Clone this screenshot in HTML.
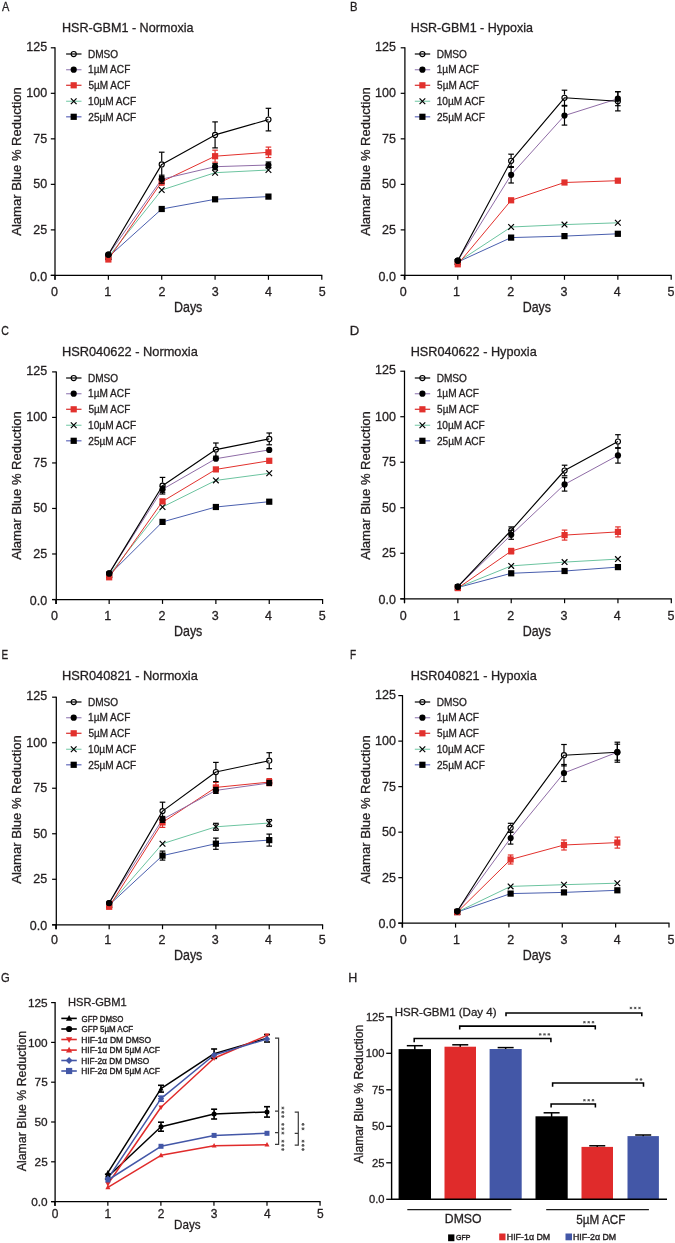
<!DOCTYPE html>
<html><head><meta charset="utf-8"><style>
html,body{margin:0;padding:0;background:#fff;}
svg{display:block;will-change:transform;}
text{font-family:"Liberation Sans", sans-serif;}
</style></head><body>
<svg width="675" height="1243" viewBox="0 0 675 1243">
<rect width="675" height="1243" fill="#fff"/>
<text x="1.88" y="11.00" font-size="13.2" textLength="7.34" lengthAdjust="spacingAndGlyphs" fill="#231f20" stroke="#231f20" stroke-width="0.3">A</text>
<text x="61.97" y="31.70" font-size="12.9" textLength="131.53" lengthAdjust="spacingAndGlyphs" fill="#231f20" stroke="#231f20" stroke-width="0.3">HSR-GBM1 - Normoxia</text>
<line x1="55.00" y1="47.30" x2="55.00" y2="279.80" stroke="#000" stroke-width="1.25" stroke-linecap="butt"/>
<line x1="50.80" y1="275.40" x2="322.30" y2="275.40" stroke="#000" stroke-width="1.25" stroke-linecap="butt"/>
<line x1="50.80" y1="275.40" x2="55.00" y2="275.40" stroke="#000" stroke-width="1.2" stroke-linecap="butt"/>
<text x="29.81" y="280.60" font-size="12.5" textLength="17.38" lengthAdjust="spacingAndGlyphs" fill="#231f20" stroke="#231f20" stroke-width="0.3">0.0</text>
<line x1="50.80" y1="229.88" x2="55.00" y2="229.88" stroke="#000" stroke-width="1.2" stroke-linecap="butt"/>
<text x="33.32" y="233.88" font-size="12.5" textLength="13.90" lengthAdjust="spacingAndGlyphs" fill="#231f20" stroke="#231f20" stroke-width="0.3">25</text>
<line x1="50.80" y1="184.36" x2="55.00" y2="184.36" stroke="#000" stroke-width="1.2" stroke-linecap="butt"/>
<text x="33.28" y="188.36" font-size="12.5" textLength="13.90" lengthAdjust="spacingAndGlyphs" fill="#231f20" stroke="#231f20" stroke-width="0.3">50</text>
<line x1="50.80" y1="138.84" x2="55.00" y2="138.84" stroke="#000" stroke-width="1.2" stroke-linecap="butt"/>
<text x="33.32" y="142.84" font-size="12.5" textLength="13.90" lengthAdjust="spacingAndGlyphs" fill="#231f20" stroke="#231f20" stroke-width="0.3">75</text>
<line x1="50.80" y1="93.32" x2="55.00" y2="93.32" stroke="#000" stroke-width="1.2" stroke-linecap="butt"/>
<text x="26.33" y="97.32" font-size="12.5" textLength="20.86" lengthAdjust="spacingAndGlyphs" fill="#231f20" stroke="#231f20" stroke-width="0.3">100</text>
<line x1="50.80" y1="47.80" x2="55.00" y2="47.80" stroke="#000" stroke-width="1.2" stroke-linecap="butt"/>
<text x="26.37" y="50.80" font-size="12.5" textLength="20.86" lengthAdjust="spacingAndGlyphs" fill="#231f20" stroke="#231f20" stroke-width="0.3">125</text>
<line x1="55.00" y1="275.40" x2="55.00" y2="279.80" stroke="#000" stroke-width="1.2" stroke-linecap="butt"/>
<text x="51.02" y="295.60" font-size="12.5" textLength="6.95" lengthAdjust="spacingAndGlyphs" fill="#231f20" stroke="#231f20" stroke-width="0.3">0</text>
<line x1="108.36" y1="275.40" x2="108.36" y2="279.80" stroke="#000" stroke-width="1.2" stroke-linecap="butt"/>
<text x="104.25" y="295.60" font-size="12.5" textLength="6.95" lengthAdjust="spacingAndGlyphs" fill="#231f20" stroke="#231f20" stroke-width="0.3">1</text>
<line x1="161.72" y1="275.40" x2="161.72" y2="279.80" stroke="#000" stroke-width="1.2" stroke-linecap="butt"/>
<text x="158.52" y="295.60" font-size="12.5" textLength="6.95" lengthAdjust="spacingAndGlyphs" fill="#231f20" stroke="#231f20" stroke-width="0.3">2</text>
<line x1="215.08" y1="275.40" x2="215.08" y2="279.80" stroke="#000" stroke-width="1.2" stroke-linecap="butt"/>
<text x="211.86" y="295.60" font-size="12.5" textLength="6.95" lengthAdjust="spacingAndGlyphs" fill="#231f20" stroke="#231f20" stroke-width="0.3">3</text>
<line x1="268.44" y1="275.40" x2="268.44" y2="279.80" stroke="#000" stroke-width="1.2" stroke-linecap="butt"/>
<text x="265.06" y="295.60" font-size="12.5" textLength="6.95" lengthAdjust="spacingAndGlyphs" fill="#231f20" stroke="#231f20" stroke-width="0.3">4</text>
<line x1="321.80" y1="275.40" x2="321.80" y2="279.80" stroke="#000" stroke-width="1.2" stroke-linecap="butt"/>
<text x="318.74" y="295.60" font-size="12.5" textLength="6.95" lengthAdjust="spacingAndGlyphs" fill="#231f20" stroke="#231f20" stroke-width="0.3">5</text>
<text x="173.98" y="311.90" font-size="14" textLength="28.37" lengthAdjust="spacingAndGlyphs" fill="#231f20" stroke="#231f20" stroke-width="0.3">Days</text>
<text transform="translate(21.40,235.73) rotate(-90)" font-size="13.4" textLength="148.57" lengthAdjust="spacingAndGlyphs" fill="#231f20" stroke="#231f20" stroke-width="0.3">Alamar Blue % Reduction</text>
<line x1="66.10" y1="54.00" x2="81.50" y2="54.00" stroke="#1a1a1a" stroke-width="1.3" stroke-linecap="butt"/>
<circle cx="73.70" cy="54.00" r="2.55" fill="none" stroke="#000" stroke-width="1.15"/>
<text x="87.97" y="57.70" font-size="10.3" textLength="30.21" lengthAdjust="spacingAndGlyphs" fill="#231f20" stroke="#231f20" stroke-width="0.3">DMSO</text>
<line x1="66.10" y1="69.70" x2="81.50" y2="69.70" stroke="#a48fbf" stroke-width="1.3" stroke-linecap="butt"/>
<circle cx="73.70" cy="69.70" r="3.10" fill="#000"/>
<text x="88.04" y="73.40" font-size="10.3" textLength="42.26" lengthAdjust="spacingAndGlyphs" fill="#231f20" stroke="#231f20" stroke-width="0.3">1µM ACF</text>
<line x1="66.10" y1="85.30" x2="81.50" y2="85.30" stroke="#dc3c3a" stroke-width="1.3" stroke-linecap="butt"/>
<rect x="70.60" y="82.20" width="6.20" height="6.20" fill="#e2312d"/>
<text x="88.40" y="89.00" font-size="10.3" textLength="41.89" lengthAdjust="spacingAndGlyphs" fill="#231f20" stroke="#231f20" stroke-width="0.3">5µM ACF</text>
<line x1="66.10" y1="101.30" x2="81.50" y2="101.30" stroke="#8fd4b8" stroke-width="1.3" stroke-linecap="butt"/>
<path d="M70.85,98.45L76.55,104.15M76.55,98.45L70.85,104.15" stroke="#000" stroke-width="1.2" fill="none"/>
<text x="88.04" y="105.00" font-size="10.3" textLength="48.06" lengthAdjust="spacingAndGlyphs" fill="#231f20" stroke="#231f20" stroke-width="0.3">10µM ACF</text>
<line x1="66.10" y1="116.80" x2="81.50" y2="116.80" stroke="#6d74c0" stroke-width="1.3" stroke-linecap="butt"/>
<rect x="70.60" y="113.70" width="6.20" height="6.20" fill="#000"/>
<text x="88.30" y="120.50" font-size="10.3" textLength="47.80" lengthAdjust="spacingAndGlyphs" fill="#231f20" stroke="#231f20" stroke-width="0.3">25µM ACF</text>
<polyline points="108.36,257.00 161.72,209.00 215.08,199.30 268.44,196.60" fill="none" stroke="#4a5fae" stroke-width="1.0" stroke-linejoin="round"/>
<polyline points="108.36,257.00 161.72,190.00 215.08,172.70 268.44,170.00" fill="none" stroke="#6cc4a0" stroke-width="1.0" stroke-linejoin="round"/>
<polyline points="108.36,259.50 161.72,181.70 215.08,156.20 268.44,152.30" fill="none" stroke="#e2312d" stroke-width="1.0" stroke-linejoin="round"/>
<polyline points="108.36,254.70 161.72,179.20 215.08,166.70 268.44,165.00" fill="none" stroke="#8f6ca6" stroke-width="1.0" stroke-linejoin="round"/>
<polyline points="108.36,254.50 161.72,164.40 215.08,134.90 268.44,119.60" fill="none" stroke="#000" stroke-width="1.15" stroke-linejoin="round"/>
<rect x="105.26" y="253.90" width="6.20" height="6.20" fill="#000"/>
<rect x="158.62" y="205.90" width="6.20" height="6.20" fill="#000"/>
<rect x="211.98" y="196.20" width="6.20" height="6.20" fill="#000"/>
<rect x="265.34" y="193.50" width="6.20" height="6.20" fill="#000"/>
<path d="M105.51,254.15L111.21,259.85M111.21,254.15L105.51,259.85" stroke="#000" stroke-width="1.2" fill="none"/>
<path d="M158.87,187.15L164.57,192.85M164.57,187.15L158.87,192.85" stroke="#000" stroke-width="1.2" fill="none"/>
<path d="M212.23,169.85L217.93,175.55M217.93,169.85L212.23,175.55" stroke="#000" stroke-width="1.2" fill="none"/>
<path d="M265.59,167.15L271.29,172.85M271.29,167.15L265.59,172.85" stroke="#000" stroke-width="1.2" fill="none"/>
<line x1="161.72" y1="178.20" x2="161.72" y2="185.20" stroke="#e2312d" stroke-width="1.2" stroke-linecap="butt"/>
<line x1="158.92" y1="178.20" x2="164.52" y2="178.20" stroke="#e2312d" stroke-width="1.2" stroke-linecap="butt"/>
<line x1="158.92" y1="185.20" x2="164.52" y2="185.20" stroke="#e2312d" stroke-width="1.2" stroke-linecap="butt"/>
<line x1="215.08" y1="150.20" x2="215.08" y2="162.20" stroke="#e2312d" stroke-width="1.2" stroke-linecap="butt"/>
<line x1="212.28" y1="150.20" x2="217.88" y2="150.20" stroke="#e2312d" stroke-width="1.2" stroke-linecap="butt"/>
<line x1="212.28" y1="162.20" x2="217.88" y2="162.20" stroke="#e2312d" stroke-width="1.2" stroke-linecap="butt"/>
<line x1="268.44" y1="147.10" x2="268.44" y2="157.50" stroke="#e2312d" stroke-width="1.2" stroke-linecap="butt"/>
<line x1="265.64" y1="147.10" x2="271.24" y2="147.10" stroke="#e2312d" stroke-width="1.2" stroke-linecap="butt"/>
<line x1="265.64" y1="157.50" x2="271.24" y2="157.50" stroke="#e2312d" stroke-width="1.2" stroke-linecap="butt"/>
<rect x="105.26" y="256.40" width="6.20" height="6.20" fill="#e2312d"/>
<rect x="158.62" y="178.60" width="6.20" height="6.20" fill="#e2312d"/>
<rect x="211.98" y="153.10" width="6.20" height="6.20" fill="#e2312d"/>
<rect x="265.34" y="149.20" width="6.20" height="6.20" fill="#e2312d"/>
<line x1="161.72" y1="175.20" x2="161.72" y2="183.20" stroke="#000" stroke-width="1.2" stroke-linecap="butt"/>
<line x1="158.92" y1="175.20" x2="164.52" y2="175.20" stroke="#000" stroke-width="1.2" stroke-linecap="butt"/>
<line x1="158.92" y1="183.20" x2="164.52" y2="183.20" stroke="#000" stroke-width="1.2" stroke-linecap="butt"/>
<line x1="215.08" y1="163.70" x2="215.08" y2="169.70" stroke="#000" stroke-width="1.2" stroke-linecap="butt"/>
<line x1="212.28" y1="163.70" x2="217.88" y2="163.70" stroke="#000" stroke-width="1.2" stroke-linecap="butt"/>
<line x1="212.28" y1="169.70" x2="217.88" y2="169.70" stroke="#000" stroke-width="1.2" stroke-linecap="butt"/>
<line x1="268.44" y1="162.00" x2="268.44" y2="168.00" stroke="#000" stroke-width="1.2" stroke-linecap="butt"/>
<line x1="265.64" y1="162.00" x2="271.24" y2="162.00" stroke="#000" stroke-width="1.2" stroke-linecap="butt"/>
<line x1="265.64" y1="168.00" x2="271.24" y2="168.00" stroke="#000" stroke-width="1.2" stroke-linecap="butt"/>
<circle cx="108.36" cy="254.70" r="3.10" fill="#000"/>
<circle cx="161.72" cy="179.20" r="3.10" fill="#000"/>
<circle cx="215.08" cy="166.70" r="3.10" fill="#000"/>
<circle cx="268.44" cy="165.00" r="3.10" fill="#000"/>
<line x1="161.72" y1="152.20" x2="161.72" y2="161.30" stroke="#000" stroke-width="1.2" stroke-linecap="butt"/>
<line x1="161.72" y1="167.50" x2="161.72" y2="176.60" stroke="#000" stroke-width="1.2" stroke-linecap="butt"/>
<line x1="158.92" y1="152.20" x2="164.52" y2="152.20" stroke="#000" stroke-width="1.2" stroke-linecap="butt"/>
<line x1="158.92" y1="176.60" x2="164.52" y2="176.60" stroke="#000" stroke-width="1.2" stroke-linecap="butt"/>
<line x1="215.08" y1="121.90" x2="215.08" y2="131.80" stroke="#000" stroke-width="1.2" stroke-linecap="butt"/>
<line x1="215.08" y1="138.00" x2="215.08" y2="147.90" stroke="#000" stroke-width="1.2" stroke-linecap="butt"/>
<line x1="212.28" y1="121.90" x2="217.88" y2="121.90" stroke="#000" stroke-width="1.2" stroke-linecap="butt"/>
<line x1="212.28" y1="147.90" x2="217.88" y2="147.90" stroke="#000" stroke-width="1.2" stroke-linecap="butt"/>
<line x1="268.44" y1="108.30" x2="268.44" y2="116.50" stroke="#000" stroke-width="1.2" stroke-linecap="butt"/>
<line x1="268.44" y1="122.70" x2="268.44" y2="130.90" stroke="#000" stroke-width="1.2" stroke-linecap="butt"/>
<line x1="265.64" y1="108.30" x2="271.24" y2="108.30" stroke="#000" stroke-width="1.2" stroke-linecap="butt"/>
<line x1="265.64" y1="130.90" x2="271.24" y2="130.90" stroke="#000" stroke-width="1.2" stroke-linecap="butt"/>
<circle cx="108.36" cy="254.50" r="2.55" fill="none" stroke="#000" stroke-width="1.15"/>
<circle cx="161.72" cy="164.40" r="2.55" fill="none" stroke="#000" stroke-width="1.15"/>
<circle cx="215.08" cy="134.90" r="2.55" fill="none" stroke="#000" stroke-width="1.15"/>
<circle cx="268.44" cy="119.60" r="2.55" fill="none" stroke="#000" stroke-width="1.15"/>
<text x="349.88" y="11.00" font-size="13.2" textLength="7.52" lengthAdjust="spacingAndGlyphs" fill="#231f20" stroke="#231f20" stroke-width="0.3">B</text>
<text x="410.67" y="31.70" font-size="12.9" textLength="122.23" lengthAdjust="spacingAndGlyphs" fill="#231f20" stroke="#231f20" stroke-width="0.3">HSR-GBM1 - Hypoxia</text>
<line x1="404.90" y1="47.30" x2="404.90" y2="279.80" stroke="#000" stroke-width="1.25" stroke-linecap="butt"/>
<line x1="400.70" y1="275.40" x2="671.70" y2="275.40" stroke="#000" stroke-width="1.25" stroke-linecap="butt"/>
<line x1="400.70" y1="275.40" x2="404.90" y2="275.40" stroke="#000" stroke-width="1.2" stroke-linecap="butt"/>
<text x="378.51" y="280.60" font-size="12.5" textLength="17.38" lengthAdjust="spacingAndGlyphs" fill="#231f20" stroke="#231f20" stroke-width="0.3">0.0</text>
<line x1="400.70" y1="229.88" x2="404.90" y2="229.88" stroke="#000" stroke-width="1.2" stroke-linecap="butt"/>
<text x="382.02" y="233.88" font-size="12.5" textLength="13.90" lengthAdjust="spacingAndGlyphs" fill="#231f20" stroke="#231f20" stroke-width="0.3">25</text>
<line x1="400.70" y1="184.36" x2="404.90" y2="184.36" stroke="#000" stroke-width="1.2" stroke-linecap="butt"/>
<text x="381.98" y="188.36" font-size="12.5" textLength="13.90" lengthAdjust="spacingAndGlyphs" fill="#231f20" stroke="#231f20" stroke-width="0.3">50</text>
<line x1="400.70" y1="138.84" x2="404.90" y2="138.84" stroke="#000" stroke-width="1.2" stroke-linecap="butt"/>
<text x="382.02" y="142.84" font-size="12.5" textLength="13.90" lengthAdjust="spacingAndGlyphs" fill="#231f20" stroke="#231f20" stroke-width="0.3">75</text>
<line x1="400.70" y1="93.32" x2="404.90" y2="93.32" stroke="#000" stroke-width="1.2" stroke-linecap="butt"/>
<text x="375.03" y="97.32" font-size="12.5" textLength="20.86" lengthAdjust="spacingAndGlyphs" fill="#231f20" stroke="#231f20" stroke-width="0.3">100</text>
<line x1="400.70" y1="47.80" x2="404.90" y2="47.80" stroke="#000" stroke-width="1.2" stroke-linecap="butt"/>
<text x="375.07" y="50.80" font-size="12.5" textLength="20.86" lengthAdjust="spacingAndGlyphs" fill="#231f20" stroke="#231f20" stroke-width="0.3">125</text>
<line x1="404.40" y1="275.40" x2="404.40" y2="279.80" stroke="#000" stroke-width="1.2" stroke-linecap="butt"/>
<text x="399.72" y="295.60" font-size="12.5" textLength="6.95" lengthAdjust="spacingAndGlyphs" fill="#231f20" stroke="#231f20" stroke-width="0.3">0</text>
<line x1="457.76" y1="275.40" x2="457.76" y2="279.80" stroke="#000" stroke-width="1.2" stroke-linecap="butt"/>
<text x="452.95" y="295.60" font-size="12.5" textLength="6.95" lengthAdjust="spacingAndGlyphs" fill="#231f20" stroke="#231f20" stroke-width="0.3">1</text>
<line x1="511.12" y1="275.40" x2="511.12" y2="279.80" stroke="#000" stroke-width="1.2" stroke-linecap="butt"/>
<text x="507.22" y="295.60" font-size="12.5" textLength="6.95" lengthAdjust="spacingAndGlyphs" fill="#231f20" stroke="#231f20" stroke-width="0.3">2</text>
<line x1="564.48" y1="275.40" x2="564.48" y2="279.80" stroke="#000" stroke-width="1.2" stroke-linecap="butt"/>
<text x="560.56" y="295.60" font-size="12.5" textLength="6.95" lengthAdjust="spacingAndGlyphs" fill="#231f20" stroke="#231f20" stroke-width="0.3">3</text>
<line x1="617.84" y1="275.40" x2="617.84" y2="279.80" stroke="#000" stroke-width="1.2" stroke-linecap="butt"/>
<text x="613.76" y="295.60" font-size="12.5" textLength="6.95" lengthAdjust="spacingAndGlyphs" fill="#231f20" stroke="#231f20" stroke-width="0.3">4</text>
<line x1="671.20" y1="275.40" x2="671.20" y2="279.80" stroke="#000" stroke-width="1.2" stroke-linecap="butt"/>
<text x="667.44" y="295.60" font-size="12.5" textLength="6.95" lengthAdjust="spacingAndGlyphs" fill="#231f20" stroke="#231f20" stroke-width="0.3">5</text>
<text x="522.68" y="311.90" font-size="14" textLength="28.37" lengthAdjust="spacingAndGlyphs" fill="#231f20" stroke="#231f20" stroke-width="0.3">Days</text>
<text transform="translate(370.10,235.73) rotate(-90)" font-size="13.4" textLength="148.57" lengthAdjust="spacingAndGlyphs" fill="#231f20" stroke="#231f20" stroke-width="0.3">Alamar Blue % Reduction</text>
<line x1="414.80" y1="54.00" x2="430.20" y2="54.00" stroke="#1a1a1a" stroke-width="1.3" stroke-linecap="butt"/>
<circle cx="422.40" cy="54.00" r="2.55" fill="none" stroke="#000" stroke-width="1.15"/>
<text x="436.67" y="57.70" font-size="10.3" textLength="30.21" lengthAdjust="spacingAndGlyphs" fill="#231f20" stroke="#231f20" stroke-width="0.3">DMSO</text>
<line x1="414.80" y1="69.70" x2="430.20" y2="69.70" stroke="#a48fbf" stroke-width="1.3" stroke-linecap="butt"/>
<circle cx="422.40" cy="69.70" r="3.10" fill="#000"/>
<text x="436.74" y="73.40" font-size="10.3" textLength="42.26" lengthAdjust="spacingAndGlyphs" fill="#231f20" stroke="#231f20" stroke-width="0.3">1µM ACF</text>
<line x1="414.80" y1="85.30" x2="430.20" y2="85.30" stroke="#dc3c3a" stroke-width="1.3" stroke-linecap="butt"/>
<rect x="419.30" y="82.20" width="6.20" height="6.20" fill="#e2312d"/>
<text x="437.10" y="89.00" font-size="10.3" textLength="41.89" lengthAdjust="spacingAndGlyphs" fill="#231f20" stroke="#231f20" stroke-width="0.3">5µM ACF</text>
<line x1="414.80" y1="101.30" x2="430.20" y2="101.30" stroke="#8fd4b8" stroke-width="1.3" stroke-linecap="butt"/>
<path d="M419.55,98.45L425.25,104.15M425.25,98.45L419.55,104.15" stroke="#000" stroke-width="1.2" fill="none"/>
<text x="436.74" y="105.00" font-size="10.3" textLength="48.06" lengthAdjust="spacingAndGlyphs" fill="#231f20" stroke="#231f20" stroke-width="0.3">10µM ACF</text>
<line x1="414.80" y1="116.80" x2="430.20" y2="116.80" stroke="#6d74c0" stroke-width="1.3" stroke-linecap="butt"/>
<rect x="419.30" y="113.70" width="6.20" height="6.20" fill="#000"/>
<text x="437.00" y="120.50" font-size="10.3" textLength="47.80" lengthAdjust="spacingAndGlyphs" fill="#231f20" stroke="#231f20" stroke-width="0.3">25µM ACF</text>
<polyline points="457.76,262.00 511.12,237.60 564.48,236.10 617.84,233.80" fill="none" stroke="#4a5fae" stroke-width="1.0" stroke-linejoin="round"/>
<polyline points="457.76,262.00 511.12,227.00 564.48,224.60 617.84,222.80" fill="none" stroke="#6cc4a0" stroke-width="1.0" stroke-linejoin="round"/>
<polyline points="457.76,264.30 511.12,200.30 564.48,182.50 617.84,180.70" fill="none" stroke="#e2312d" stroke-width="1.0" stroke-linejoin="round"/>
<polyline points="457.76,260.70 511.12,174.80 564.48,115.60 617.84,98.70" fill="none" stroke="#8f6ca6" stroke-width="1.0" stroke-linejoin="round"/>
<polyline points="457.76,260.70 511.12,160.80 564.48,97.80 617.84,101.30" fill="none" stroke="#000" stroke-width="1.15" stroke-linejoin="round"/>
<rect x="454.66" y="258.90" width="6.20" height="6.20" fill="#000"/>
<rect x="508.02" y="234.50" width="6.20" height="6.20" fill="#000"/>
<rect x="561.38" y="233.00" width="6.20" height="6.20" fill="#000"/>
<rect x="614.74" y="230.70" width="6.20" height="6.20" fill="#000"/>
<path d="M454.91,259.15L460.61,264.85M460.61,259.15L454.91,264.85" stroke="#000" stroke-width="1.2" fill="none"/>
<path d="M508.27,224.15L513.97,229.85M513.97,224.15L508.27,229.85" stroke="#000" stroke-width="1.2" fill="none"/>
<path d="M561.63,221.75L567.33,227.45M567.33,221.75L561.63,227.45" stroke="#000" stroke-width="1.2" fill="none"/>
<path d="M614.99,219.95L620.69,225.65M620.69,219.95L614.99,225.65" stroke="#000" stroke-width="1.2" fill="none"/>
<rect x="454.66" y="261.20" width="6.20" height="6.20" fill="#e2312d"/>
<rect x="508.02" y="197.20" width="6.20" height="6.20" fill="#e2312d"/>
<rect x="561.38" y="179.40" width="6.20" height="6.20" fill="#e2312d"/>
<rect x="614.74" y="177.60" width="6.20" height="6.20" fill="#e2312d"/>
<line x1="511.12" y1="166.60" x2="511.12" y2="183.00" stroke="#000" stroke-width="1.2" stroke-linecap="butt"/>
<line x1="508.32" y1="166.60" x2="513.92" y2="166.60" stroke="#000" stroke-width="1.2" stroke-linecap="butt"/>
<line x1="508.32" y1="183.00" x2="513.92" y2="183.00" stroke="#000" stroke-width="1.2" stroke-linecap="butt"/>
<line x1="564.48" y1="106.10" x2="564.48" y2="125.10" stroke="#000" stroke-width="1.2" stroke-linecap="butt"/>
<line x1="561.68" y1="106.10" x2="567.28" y2="106.10" stroke="#000" stroke-width="1.2" stroke-linecap="butt"/>
<line x1="561.68" y1="125.10" x2="567.28" y2="125.10" stroke="#000" stroke-width="1.2" stroke-linecap="butt"/>
<line x1="617.84" y1="91.70" x2="617.84" y2="105.70" stroke="#000" stroke-width="1.2" stroke-linecap="butt"/>
<line x1="615.04" y1="91.70" x2="620.64" y2="91.70" stroke="#000" stroke-width="1.2" stroke-linecap="butt"/>
<line x1="615.04" y1="105.70" x2="620.64" y2="105.70" stroke="#000" stroke-width="1.2" stroke-linecap="butt"/>
<circle cx="457.76" cy="260.70" r="3.10" fill="#000"/>
<circle cx="511.12" cy="174.80" r="3.10" fill="#000"/>
<circle cx="564.48" cy="115.60" r="3.10" fill="#000"/>
<circle cx="617.84" cy="98.70" r="3.10" fill="#000"/>
<line x1="511.12" y1="154.20" x2="511.12" y2="157.70" stroke="#000" stroke-width="1.2" stroke-linecap="butt"/>
<line x1="511.12" y1="163.90" x2="511.12" y2="167.40" stroke="#000" stroke-width="1.2" stroke-linecap="butt"/>
<line x1="508.32" y1="154.20" x2="513.92" y2="154.20" stroke="#000" stroke-width="1.2" stroke-linecap="butt"/>
<line x1="508.32" y1="167.40" x2="513.92" y2="167.40" stroke="#000" stroke-width="1.2" stroke-linecap="butt"/>
<line x1="564.48" y1="90.20" x2="564.48" y2="94.70" stroke="#000" stroke-width="1.2" stroke-linecap="butt"/>
<line x1="564.48" y1="100.90" x2="564.48" y2="105.40" stroke="#000" stroke-width="1.2" stroke-linecap="butt"/>
<line x1="561.68" y1="90.20" x2="567.28" y2="90.20" stroke="#000" stroke-width="1.2" stroke-linecap="butt"/>
<line x1="561.68" y1="105.40" x2="567.28" y2="105.40" stroke="#000" stroke-width="1.2" stroke-linecap="butt"/>
<line x1="617.84" y1="91.70" x2="617.84" y2="98.20" stroke="#000" stroke-width="1.2" stroke-linecap="butt"/>
<line x1="617.84" y1="104.40" x2="617.84" y2="110.90" stroke="#000" stroke-width="1.2" stroke-linecap="butt"/>
<line x1="615.04" y1="91.70" x2="620.64" y2="91.70" stroke="#000" stroke-width="1.2" stroke-linecap="butt"/>
<line x1="615.04" y1="110.90" x2="620.64" y2="110.90" stroke="#000" stroke-width="1.2" stroke-linecap="butt"/>
<circle cx="457.76" cy="260.70" r="2.55" fill="none" stroke="#000" stroke-width="1.15"/>
<circle cx="511.12" cy="160.80" r="2.55" fill="none" stroke="#000" stroke-width="1.15"/>
<circle cx="564.48" cy="97.80" r="2.55" fill="none" stroke="#000" stroke-width="1.15"/>
<circle cx="617.84" cy="101.30" r="2.55" fill="none" stroke="#000" stroke-width="1.15"/>
<text x="1.36" y="335.00" font-size="13.2" textLength="7.64" lengthAdjust="spacingAndGlyphs" fill="#231f20" stroke="#231f20" stroke-width="0.3">C</text>
<text x="61.95" y="355.70" font-size="12.9" textLength="135.85" lengthAdjust="spacingAndGlyphs" fill="#231f20" stroke="#231f20" stroke-width="0.3">HSR040622 - Normoxia</text>
<line x1="56.30" y1="371.40" x2="56.30" y2="603.90" stroke="#000" stroke-width="1.25" stroke-linecap="butt"/>
<line x1="52.10" y1="599.50" x2="323.10" y2="599.50" stroke="#000" stroke-width="1.25" stroke-linecap="butt"/>
<line x1="52.10" y1="599.50" x2="56.30" y2="599.50" stroke="#000" stroke-width="1.2" stroke-linecap="butt"/>
<text x="29.81" y="604.70" font-size="12.5" textLength="17.38" lengthAdjust="spacingAndGlyphs" fill="#231f20" stroke="#231f20" stroke-width="0.3">0.0</text>
<line x1="52.10" y1="553.98" x2="56.30" y2="553.98" stroke="#000" stroke-width="1.2" stroke-linecap="butt"/>
<text x="33.32" y="557.98" font-size="12.5" textLength="13.90" lengthAdjust="spacingAndGlyphs" fill="#231f20" stroke="#231f20" stroke-width="0.3">25</text>
<line x1="52.10" y1="508.46" x2="56.30" y2="508.46" stroke="#000" stroke-width="1.2" stroke-linecap="butt"/>
<text x="33.28" y="512.46" font-size="12.5" textLength="13.90" lengthAdjust="spacingAndGlyphs" fill="#231f20" stroke="#231f20" stroke-width="0.3">50</text>
<line x1="52.10" y1="462.94" x2="56.30" y2="462.94" stroke="#000" stroke-width="1.2" stroke-linecap="butt"/>
<text x="33.32" y="466.94" font-size="12.5" textLength="13.90" lengthAdjust="spacingAndGlyphs" fill="#231f20" stroke="#231f20" stroke-width="0.3">75</text>
<line x1="52.10" y1="417.42" x2="56.30" y2="417.42" stroke="#000" stroke-width="1.2" stroke-linecap="butt"/>
<text x="26.33" y="421.42" font-size="12.5" textLength="20.86" lengthAdjust="spacingAndGlyphs" fill="#231f20" stroke="#231f20" stroke-width="0.3">100</text>
<line x1="52.10" y1="371.90" x2="56.30" y2="371.90" stroke="#000" stroke-width="1.2" stroke-linecap="butt"/>
<text x="26.37" y="374.90" font-size="12.5" textLength="20.86" lengthAdjust="spacingAndGlyphs" fill="#231f20" stroke="#231f20" stroke-width="0.3">125</text>
<line x1="55.80" y1="599.50" x2="55.80" y2="603.90" stroke="#000" stroke-width="1.2" stroke-linecap="butt"/>
<text x="51.02" y="619.60" font-size="12.5" textLength="6.95" lengthAdjust="spacingAndGlyphs" fill="#231f20" stroke="#231f20" stroke-width="0.3">0</text>
<line x1="109.16" y1="599.50" x2="109.16" y2="603.90" stroke="#000" stroke-width="1.2" stroke-linecap="butt"/>
<text x="104.25" y="619.60" font-size="12.5" textLength="6.95" lengthAdjust="spacingAndGlyphs" fill="#231f20" stroke="#231f20" stroke-width="0.3">1</text>
<line x1="162.52" y1="599.50" x2="162.52" y2="603.90" stroke="#000" stroke-width="1.2" stroke-linecap="butt"/>
<text x="158.52" y="619.60" font-size="12.5" textLength="6.95" lengthAdjust="spacingAndGlyphs" fill="#231f20" stroke="#231f20" stroke-width="0.3">2</text>
<line x1="215.88" y1="599.50" x2="215.88" y2="603.90" stroke="#000" stroke-width="1.2" stroke-linecap="butt"/>
<text x="211.86" y="619.60" font-size="12.5" textLength="6.95" lengthAdjust="spacingAndGlyphs" fill="#231f20" stroke="#231f20" stroke-width="0.3">3</text>
<line x1="269.24" y1="599.50" x2="269.24" y2="603.90" stroke="#000" stroke-width="1.2" stroke-linecap="butt"/>
<text x="265.06" y="619.60" font-size="12.5" textLength="6.95" lengthAdjust="spacingAndGlyphs" fill="#231f20" stroke="#231f20" stroke-width="0.3">4</text>
<line x1="322.60" y1="599.50" x2="322.60" y2="603.90" stroke="#000" stroke-width="1.2" stroke-linecap="butt"/>
<text x="318.74" y="619.60" font-size="12.5" textLength="6.95" lengthAdjust="spacingAndGlyphs" fill="#231f20" stroke="#231f20" stroke-width="0.3">5</text>
<text x="173.98" y="635.90" font-size="14" textLength="28.37" lengthAdjust="spacingAndGlyphs" fill="#231f20" stroke="#231f20" stroke-width="0.3">Days</text>
<text transform="translate(21.40,559.73) rotate(-90)" font-size="13.4" textLength="148.57" lengthAdjust="spacingAndGlyphs" fill="#231f20" stroke="#231f20" stroke-width="0.3">Alamar Blue % Reduction</text>
<line x1="66.10" y1="378.00" x2="81.50" y2="378.00" stroke="#1a1a1a" stroke-width="1.3" stroke-linecap="butt"/>
<circle cx="73.70" cy="378.00" r="2.55" fill="none" stroke="#000" stroke-width="1.15"/>
<text x="87.97" y="381.70" font-size="10.3" textLength="30.21" lengthAdjust="spacingAndGlyphs" fill="#231f20" stroke="#231f20" stroke-width="0.3">DMSO</text>
<line x1="66.10" y1="393.70" x2="81.50" y2="393.70" stroke="#a48fbf" stroke-width="1.3" stroke-linecap="butt"/>
<circle cx="73.70" cy="393.70" r="3.10" fill="#000"/>
<text x="88.04" y="397.40" font-size="10.3" textLength="42.26" lengthAdjust="spacingAndGlyphs" fill="#231f20" stroke="#231f20" stroke-width="0.3">1µM ACF</text>
<line x1="66.10" y1="409.30" x2="81.50" y2="409.30" stroke="#dc3c3a" stroke-width="1.3" stroke-linecap="butt"/>
<rect x="70.60" y="406.20" width="6.20" height="6.20" fill="#e2312d"/>
<text x="88.40" y="413.00" font-size="10.3" textLength="41.89" lengthAdjust="spacingAndGlyphs" fill="#231f20" stroke="#231f20" stroke-width="0.3">5µM ACF</text>
<line x1="66.10" y1="425.30" x2="81.50" y2="425.30" stroke="#8fd4b8" stroke-width="1.3" stroke-linecap="butt"/>
<path d="M70.85,422.45L76.55,428.15M76.55,422.45L70.85,428.15" stroke="#000" stroke-width="1.2" fill="none"/>
<text x="88.04" y="429.00" font-size="10.3" textLength="48.06" lengthAdjust="spacingAndGlyphs" fill="#231f20" stroke="#231f20" stroke-width="0.3">10µM ACF</text>
<line x1="66.10" y1="440.80" x2="81.50" y2="440.80" stroke="#6d74c0" stroke-width="1.3" stroke-linecap="butt"/>
<rect x="70.60" y="437.70" width="6.20" height="6.20" fill="#000"/>
<text x="88.30" y="444.50" font-size="10.3" textLength="47.80" lengthAdjust="spacingAndGlyphs" fill="#231f20" stroke="#231f20" stroke-width="0.3">25µM ACF</text>
<polyline points="109.16,575.00 162.52,521.90 215.88,507.00 269.24,501.70" fill="none" stroke="#4a5fae" stroke-width="1.0" stroke-linejoin="round"/>
<polyline points="109.16,575.00 162.52,507.00 215.88,480.40 269.24,473.30" fill="none" stroke="#6cc4a0" stroke-width="1.0" stroke-linejoin="round"/>
<polyline points="109.16,577.30 162.52,501.40 215.88,469.40 269.24,460.80" fill="none" stroke="#e2312d" stroke-width="1.0" stroke-linejoin="round"/>
<polyline points="109.16,573.40 162.52,489.30 215.88,458.70 269.24,449.90" fill="none" stroke="#8f6ca6" stroke-width="1.0" stroke-linejoin="round"/>
<polyline points="109.16,573.40 162.52,485.70 215.88,449.60 269.24,438.90" fill="none" stroke="#000" stroke-width="1.15" stroke-linejoin="round"/>
<rect x="106.06" y="571.90" width="6.20" height="6.20" fill="#000"/>
<rect x="159.42" y="518.80" width="6.20" height="6.20" fill="#000"/>
<rect x="212.78" y="503.90" width="6.20" height="6.20" fill="#000"/>
<rect x="266.14" y="498.60" width="6.20" height="6.20" fill="#000"/>
<path d="M106.31,572.15L112.01,577.85M112.01,572.15L106.31,577.85" stroke="#000" stroke-width="1.2" fill="none"/>
<path d="M159.67,504.15L165.37,509.85M165.37,504.15L159.67,509.85" stroke="#000" stroke-width="1.2" fill="none"/>
<path d="M213.03,477.55L218.73,483.25M218.73,477.55L213.03,483.25" stroke="#000" stroke-width="1.2" fill="none"/>
<path d="M266.39,470.45L272.09,476.15M272.09,470.45L266.39,476.15" stroke="#000" stroke-width="1.2" fill="none"/>
<line x1="162.52" y1="499.40" x2="162.52" y2="503.40" stroke="#e2312d" stroke-width="1.2" stroke-linecap="butt"/>
<line x1="159.72" y1="499.40" x2="165.32" y2="499.40" stroke="#e2312d" stroke-width="1.2" stroke-linecap="butt"/>
<line x1="159.72" y1="503.40" x2="165.32" y2="503.40" stroke="#e2312d" stroke-width="1.2" stroke-linecap="butt"/>
<rect x="106.06" y="574.20" width="6.20" height="6.20" fill="#e2312d"/>
<rect x="159.42" y="498.30" width="6.20" height="6.20" fill="#e2312d"/>
<rect x="212.78" y="466.30" width="6.20" height="6.20" fill="#e2312d"/>
<rect x="266.14" y="457.70" width="6.20" height="6.20" fill="#e2312d"/>
<line x1="162.52" y1="486.30" x2="162.52" y2="492.30" stroke="#000" stroke-width="1.2" stroke-linecap="butt"/>
<line x1="159.72" y1="486.30" x2="165.32" y2="486.30" stroke="#000" stroke-width="1.2" stroke-linecap="butt"/>
<line x1="159.72" y1="492.30" x2="165.32" y2="492.30" stroke="#000" stroke-width="1.2" stroke-linecap="butt"/>
<circle cx="109.16" cy="573.40" r="3.10" fill="#000"/>
<circle cx="162.52" cy="489.30" r="3.10" fill="#000"/>
<circle cx="215.88" cy="458.70" r="3.10" fill="#000"/>
<circle cx="269.24" cy="449.90" r="3.10" fill="#000"/>
<line x1="162.52" y1="477.40" x2="162.52" y2="482.60" stroke="#000" stroke-width="1.2" stroke-linecap="butt"/>
<line x1="162.52" y1="488.80" x2="162.52" y2="494.00" stroke="#000" stroke-width="1.2" stroke-linecap="butt"/>
<line x1="159.72" y1="477.40" x2="165.32" y2="477.40" stroke="#000" stroke-width="1.2" stroke-linecap="butt"/>
<line x1="159.72" y1="494.00" x2="165.32" y2="494.00" stroke="#000" stroke-width="1.2" stroke-linecap="butt"/>
<line x1="215.88" y1="443.00" x2="215.88" y2="446.50" stroke="#000" stroke-width="1.2" stroke-linecap="butt"/>
<line x1="215.88" y1="452.70" x2="215.88" y2="456.20" stroke="#000" stroke-width="1.2" stroke-linecap="butt"/>
<line x1="213.08" y1="443.00" x2="218.68" y2="443.00" stroke="#000" stroke-width="1.2" stroke-linecap="butt"/>
<line x1="213.08" y1="456.20" x2="218.68" y2="456.20" stroke="#000" stroke-width="1.2" stroke-linecap="butt"/>
<line x1="269.24" y1="433.00" x2="269.24" y2="435.80" stroke="#000" stroke-width="1.2" stroke-linecap="butt"/>
<line x1="269.24" y1="442.00" x2="269.24" y2="444.80" stroke="#000" stroke-width="1.2" stroke-linecap="butt"/>
<line x1="266.44" y1="433.00" x2="272.04" y2="433.00" stroke="#000" stroke-width="1.2" stroke-linecap="butt"/>
<line x1="266.44" y1="444.80" x2="272.04" y2="444.80" stroke="#000" stroke-width="1.2" stroke-linecap="butt"/>
<circle cx="109.16" cy="573.40" r="2.55" fill="none" stroke="#000" stroke-width="1.15"/>
<circle cx="162.52" cy="485.70" r="2.55" fill="none" stroke="#000" stroke-width="1.15"/>
<circle cx="215.88" cy="449.60" r="2.55" fill="none" stroke="#000" stroke-width="1.15"/>
<circle cx="269.24" cy="438.90" r="2.55" fill="none" stroke="#000" stroke-width="1.15"/>
<text x="349.72" y="335.00" font-size="13.2" textLength="9.51" lengthAdjust="spacingAndGlyphs" fill="#231f20" stroke="#231f20" stroke-width="0.3">D</text>
<text x="410.66" y="355.70" font-size="12.9" textLength="126.04" lengthAdjust="spacingAndGlyphs" fill="#231f20" stroke="#231f20" stroke-width="0.3">HSR040622 - Hypoxia</text>
<line x1="404.50" y1="370.70" x2="404.50" y2="603.20" stroke="#000" stroke-width="1.25" stroke-linecap="butt"/>
<line x1="400.30" y1="598.80" x2="671.80" y2="598.80" stroke="#000" stroke-width="1.25" stroke-linecap="butt"/>
<line x1="400.30" y1="598.80" x2="404.50" y2="598.80" stroke="#000" stroke-width="1.2" stroke-linecap="butt"/>
<text x="378.51" y="604.00" font-size="12.5" textLength="17.38" lengthAdjust="spacingAndGlyphs" fill="#231f20" stroke="#231f20" stroke-width="0.3">0.0</text>
<line x1="400.30" y1="553.28" x2="404.50" y2="553.28" stroke="#000" stroke-width="1.2" stroke-linecap="butt"/>
<text x="382.02" y="557.28" font-size="12.5" textLength="13.90" lengthAdjust="spacingAndGlyphs" fill="#231f20" stroke="#231f20" stroke-width="0.3">25</text>
<line x1="400.30" y1="507.76" x2="404.50" y2="507.76" stroke="#000" stroke-width="1.2" stroke-linecap="butt"/>
<text x="381.98" y="511.76" font-size="12.5" textLength="13.90" lengthAdjust="spacingAndGlyphs" fill="#231f20" stroke="#231f20" stroke-width="0.3">50</text>
<line x1="400.30" y1="462.24" x2="404.50" y2="462.24" stroke="#000" stroke-width="1.2" stroke-linecap="butt"/>
<text x="382.02" y="466.24" font-size="12.5" textLength="13.90" lengthAdjust="spacingAndGlyphs" fill="#231f20" stroke="#231f20" stroke-width="0.3">75</text>
<line x1="400.30" y1="416.72" x2="404.50" y2="416.72" stroke="#000" stroke-width="1.2" stroke-linecap="butt"/>
<text x="375.03" y="420.72" font-size="12.5" textLength="20.86" lengthAdjust="spacingAndGlyphs" fill="#231f20" stroke="#231f20" stroke-width="0.3">100</text>
<line x1="400.30" y1="371.20" x2="404.50" y2="371.20" stroke="#000" stroke-width="1.2" stroke-linecap="butt"/>
<text x="375.07" y="374.20" font-size="12.5" textLength="20.86" lengthAdjust="spacingAndGlyphs" fill="#231f20" stroke="#231f20" stroke-width="0.3">125</text>
<line x1="404.50" y1="598.80" x2="404.50" y2="603.20" stroke="#000" stroke-width="1.2" stroke-linecap="butt"/>
<text x="399.72" y="619.60" font-size="12.5" textLength="6.95" lengthAdjust="spacingAndGlyphs" fill="#231f20" stroke="#231f20" stroke-width="0.3">0</text>
<line x1="457.86" y1="598.80" x2="457.86" y2="603.20" stroke="#000" stroke-width="1.2" stroke-linecap="butt"/>
<text x="452.95" y="619.60" font-size="12.5" textLength="6.95" lengthAdjust="spacingAndGlyphs" fill="#231f20" stroke="#231f20" stroke-width="0.3">1</text>
<line x1="511.22" y1="598.80" x2="511.22" y2="603.20" stroke="#000" stroke-width="1.2" stroke-linecap="butt"/>
<text x="507.22" y="619.60" font-size="12.5" textLength="6.95" lengthAdjust="spacingAndGlyphs" fill="#231f20" stroke="#231f20" stroke-width="0.3">2</text>
<line x1="564.58" y1="598.80" x2="564.58" y2="603.20" stroke="#000" stroke-width="1.2" stroke-linecap="butt"/>
<text x="560.56" y="619.60" font-size="12.5" textLength="6.95" lengthAdjust="spacingAndGlyphs" fill="#231f20" stroke="#231f20" stroke-width="0.3">3</text>
<line x1="617.94" y1="598.80" x2="617.94" y2="603.20" stroke="#000" stroke-width="1.2" stroke-linecap="butt"/>
<text x="613.76" y="619.60" font-size="12.5" textLength="6.95" lengthAdjust="spacingAndGlyphs" fill="#231f20" stroke="#231f20" stroke-width="0.3">4</text>
<line x1="671.30" y1="598.80" x2="671.30" y2="603.20" stroke="#000" stroke-width="1.2" stroke-linecap="butt"/>
<text x="667.44" y="619.60" font-size="12.5" textLength="6.95" lengthAdjust="spacingAndGlyphs" fill="#231f20" stroke="#231f20" stroke-width="0.3">5</text>
<text x="522.68" y="635.90" font-size="14" textLength="28.37" lengthAdjust="spacingAndGlyphs" fill="#231f20" stroke="#231f20" stroke-width="0.3">Days</text>
<text transform="translate(370.10,559.73) rotate(-90)" font-size="13.4" textLength="148.57" lengthAdjust="spacingAndGlyphs" fill="#231f20" stroke="#231f20" stroke-width="0.3">Alamar Blue % Reduction</text>
<line x1="414.80" y1="378.00" x2="430.20" y2="378.00" stroke="#1a1a1a" stroke-width="1.3" stroke-linecap="butt"/>
<circle cx="422.40" cy="378.00" r="2.55" fill="none" stroke="#000" stroke-width="1.15"/>
<text x="436.67" y="381.70" font-size="10.3" textLength="30.21" lengthAdjust="spacingAndGlyphs" fill="#231f20" stroke="#231f20" stroke-width="0.3">DMSO</text>
<line x1="414.80" y1="393.70" x2="430.20" y2="393.70" stroke="#a48fbf" stroke-width="1.3" stroke-linecap="butt"/>
<circle cx="422.40" cy="393.70" r="3.10" fill="#000"/>
<text x="436.74" y="397.40" font-size="10.3" textLength="42.26" lengthAdjust="spacingAndGlyphs" fill="#231f20" stroke="#231f20" stroke-width="0.3">1µM ACF</text>
<line x1="414.80" y1="409.30" x2="430.20" y2="409.30" stroke="#dc3c3a" stroke-width="1.3" stroke-linecap="butt"/>
<rect x="419.30" y="406.20" width="6.20" height="6.20" fill="#e2312d"/>
<text x="437.10" y="413.00" font-size="10.3" textLength="41.89" lengthAdjust="spacingAndGlyphs" fill="#231f20" stroke="#231f20" stroke-width="0.3">5µM ACF</text>
<line x1="414.80" y1="425.30" x2="430.20" y2="425.30" stroke="#8fd4b8" stroke-width="1.3" stroke-linecap="butt"/>
<path d="M419.55,422.45L425.25,428.15M425.25,422.45L419.55,428.15" stroke="#000" stroke-width="1.2" fill="none"/>
<text x="436.74" y="429.00" font-size="10.3" textLength="48.06" lengthAdjust="spacingAndGlyphs" fill="#231f20" stroke="#231f20" stroke-width="0.3">10µM ACF</text>
<line x1="414.80" y1="440.80" x2="430.20" y2="440.80" stroke="#6d74c0" stroke-width="1.3" stroke-linecap="butt"/>
<rect x="419.30" y="437.70" width="6.20" height="6.20" fill="#000"/>
<text x="437.00" y="444.50" font-size="10.3" textLength="47.80" lengthAdjust="spacingAndGlyphs" fill="#231f20" stroke="#231f20" stroke-width="0.3">25µM ACF</text>
<polyline points="457.86,587.50 511.22,573.30 564.58,571.00 617.94,567.10" fill="none" stroke="#4a5fae" stroke-width="1.0" stroke-linejoin="round"/>
<polyline points="457.86,587.50 511.22,565.90 564.58,562.10 617.94,559.10" fill="none" stroke="#6cc4a0" stroke-width="1.0" stroke-linejoin="round"/>
<polyline points="457.86,588.10 511.22,551.10 564.58,535.10 617.94,531.90" fill="none" stroke="#e2312d" stroke-width="1.0" stroke-linejoin="round"/>
<polyline points="457.86,586.70 511.22,534.80 564.58,484.40 617.94,455.40" fill="none" stroke="#8f6ca6" stroke-width="1.0" stroke-linejoin="round"/>
<polyline points="457.86,586.70 511.22,530.40 564.58,470.50 617.94,441.50" fill="none" stroke="#000" stroke-width="1.15" stroke-linejoin="round"/>
<rect x="454.76" y="584.40" width="6.20" height="6.20" fill="#000"/>
<rect x="508.12" y="570.20" width="6.20" height="6.20" fill="#000"/>
<rect x="561.48" y="567.90" width="6.20" height="6.20" fill="#000"/>
<rect x="614.84" y="564.00" width="6.20" height="6.20" fill="#000"/>
<path d="M455.01,584.65L460.71,590.35M460.71,584.65L455.01,590.35" stroke="#000" stroke-width="1.2" fill="none"/>
<path d="M508.37,563.05L514.07,568.75M514.07,563.05L508.37,568.75" stroke="#000" stroke-width="1.2" fill="none"/>
<path d="M561.73,559.25L567.43,564.95M567.43,559.25L561.73,564.95" stroke="#000" stroke-width="1.2" fill="none"/>
<path d="M615.09,556.25L620.79,561.95M620.79,556.25L615.09,561.95" stroke="#000" stroke-width="1.2" fill="none"/>
<line x1="511.22" y1="548.40" x2="511.22" y2="553.80" stroke="#e2312d" stroke-width="1.2" stroke-linecap="butt"/>
<line x1="508.42" y1="548.40" x2="514.02" y2="548.40" stroke="#e2312d" stroke-width="1.2" stroke-linecap="butt"/>
<line x1="508.42" y1="553.80" x2="514.02" y2="553.80" stroke="#e2312d" stroke-width="1.2" stroke-linecap="butt"/>
<line x1="564.58" y1="530.10" x2="564.58" y2="540.10" stroke="#e2312d" stroke-width="1.2" stroke-linecap="butt"/>
<line x1="561.78" y1="530.10" x2="567.38" y2="530.10" stroke="#e2312d" stroke-width="1.2" stroke-linecap="butt"/>
<line x1="561.78" y1="540.10" x2="567.38" y2="540.10" stroke="#e2312d" stroke-width="1.2" stroke-linecap="butt"/>
<line x1="617.94" y1="526.90" x2="617.94" y2="536.90" stroke="#e2312d" stroke-width="1.2" stroke-linecap="butt"/>
<line x1="615.14" y1="526.90" x2="620.74" y2="526.90" stroke="#e2312d" stroke-width="1.2" stroke-linecap="butt"/>
<line x1="615.14" y1="536.90" x2="620.74" y2="536.90" stroke="#e2312d" stroke-width="1.2" stroke-linecap="butt"/>
<rect x="454.76" y="585.00" width="6.20" height="6.20" fill="#e2312d"/>
<rect x="508.12" y="548.00" width="6.20" height="6.20" fill="#e2312d"/>
<rect x="561.48" y="532.00" width="6.20" height="6.20" fill="#e2312d"/>
<rect x="614.84" y="528.80" width="6.20" height="6.20" fill="#e2312d"/>
<line x1="511.22" y1="530.30" x2="511.22" y2="539.30" stroke="#000" stroke-width="1.2" stroke-linecap="butt"/>
<line x1="508.42" y1="530.30" x2="514.02" y2="530.30" stroke="#000" stroke-width="1.2" stroke-linecap="butt"/>
<line x1="508.42" y1="539.30" x2="514.02" y2="539.30" stroke="#000" stroke-width="1.2" stroke-linecap="butt"/>
<line x1="564.58" y1="477.70" x2="564.58" y2="491.10" stroke="#000" stroke-width="1.2" stroke-linecap="butt"/>
<line x1="561.78" y1="477.70" x2="567.38" y2="477.70" stroke="#000" stroke-width="1.2" stroke-linecap="butt"/>
<line x1="561.78" y1="491.10" x2="567.38" y2="491.10" stroke="#000" stroke-width="1.2" stroke-linecap="butt"/>
<line x1="617.94" y1="447.70" x2="617.94" y2="463.10" stroke="#000" stroke-width="1.2" stroke-linecap="butt"/>
<line x1="615.14" y1="447.70" x2="620.74" y2="447.70" stroke="#000" stroke-width="1.2" stroke-linecap="butt"/>
<line x1="615.14" y1="463.10" x2="620.74" y2="463.10" stroke="#000" stroke-width="1.2" stroke-linecap="butt"/>
<circle cx="457.86" cy="586.70" r="3.10" fill="#000"/>
<circle cx="511.22" cy="534.80" r="3.10" fill="#000"/>
<circle cx="564.58" cy="484.40" r="3.10" fill="#000"/>
<circle cx="617.94" cy="455.40" r="3.10" fill="#000"/>
<line x1="511.22" y1="526.90" x2="511.22" y2="527.30" stroke="#000" stroke-width="1.2" stroke-linecap="butt"/>
<line x1="511.22" y1="533.50" x2="511.22" y2="533.90" stroke="#000" stroke-width="1.2" stroke-linecap="butt"/>
<line x1="508.42" y1="526.90" x2="514.02" y2="526.90" stroke="#000" stroke-width="1.2" stroke-linecap="butt"/>
<line x1="508.42" y1="533.90" x2="514.02" y2="533.90" stroke="#000" stroke-width="1.2" stroke-linecap="butt"/>
<line x1="564.58" y1="465.20" x2="564.58" y2="467.40" stroke="#000" stroke-width="1.2" stroke-linecap="butt"/>
<line x1="564.58" y1="473.60" x2="564.58" y2="475.80" stroke="#000" stroke-width="1.2" stroke-linecap="butt"/>
<line x1="561.78" y1="465.20" x2="567.38" y2="465.20" stroke="#000" stroke-width="1.2" stroke-linecap="butt"/>
<line x1="561.78" y1="475.80" x2="567.38" y2="475.80" stroke="#000" stroke-width="1.2" stroke-linecap="butt"/>
<line x1="617.94" y1="434.70" x2="617.94" y2="438.40" stroke="#000" stroke-width="1.2" stroke-linecap="butt"/>
<line x1="617.94" y1="444.60" x2="617.94" y2="448.30" stroke="#000" stroke-width="1.2" stroke-linecap="butt"/>
<line x1="615.14" y1="434.70" x2="620.74" y2="434.70" stroke="#000" stroke-width="1.2" stroke-linecap="butt"/>
<line x1="615.14" y1="448.30" x2="620.74" y2="448.30" stroke="#000" stroke-width="1.2" stroke-linecap="butt"/>
<circle cx="457.86" cy="586.70" r="2.55" fill="none" stroke="#000" stroke-width="1.15"/>
<circle cx="511.22" cy="530.40" r="2.55" fill="none" stroke="#000" stroke-width="1.15"/>
<circle cx="564.58" cy="470.50" r="2.55" fill="none" stroke="#000" stroke-width="1.15"/>
<circle cx="617.94" cy="441.50" r="2.55" fill="none" stroke="#000" stroke-width="1.15"/>
<text x="1.38" y="659.30" font-size="13.2" textLength="6.65" lengthAdjust="spacingAndGlyphs" fill="#231f20" stroke="#231f20" stroke-width="0.3">E</text>
<text x="61.95" y="679.70" font-size="12.9" textLength="135.85" lengthAdjust="spacingAndGlyphs" fill="#231f20" stroke="#231f20" stroke-width="0.3">HSR040821 - Normoxia</text>
<line x1="56.30" y1="696.70" x2="56.30" y2="929.20" stroke="#000" stroke-width="1.25" stroke-linecap="butt"/>
<line x1="52.10" y1="924.80" x2="323.10" y2="924.80" stroke="#000" stroke-width="1.25" stroke-linecap="butt"/>
<line x1="52.10" y1="924.80" x2="56.30" y2="924.80" stroke="#000" stroke-width="1.2" stroke-linecap="butt"/>
<text x="29.81" y="930.00" font-size="12.5" textLength="17.38" lengthAdjust="spacingAndGlyphs" fill="#231f20" stroke="#231f20" stroke-width="0.3">0.0</text>
<line x1="52.10" y1="879.28" x2="56.30" y2="879.28" stroke="#000" stroke-width="1.2" stroke-linecap="butt"/>
<text x="33.32" y="883.28" font-size="12.5" textLength="13.90" lengthAdjust="spacingAndGlyphs" fill="#231f20" stroke="#231f20" stroke-width="0.3">25</text>
<line x1="52.10" y1="833.76" x2="56.30" y2="833.76" stroke="#000" stroke-width="1.2" stroke-linecap="butt"/>
<text x="33.28" y="837.76" font-size="12.5" textLength="13.90" lengthAdjust="spacingAndGlyphs" fill="#231f20" stroke="#231f20" stroke-width="0.3">50</text>
<line x1="52.10" y1="788.24" x2="56.30" y2="788.24" stroke="#000" stroke-width="1.2" stroke-linecap="butt"/>
<text x="33.32" y="792.24" font-size="12.5" textLength="13.90" lengthAdjust="spacingAndGlyphs" fill="#231f20" stroke="#231f20" stroke-width="0.3">75</text>
<line x1="52.10" y1="742.72" x2="56.30" y2="742.72" stroke="#000" stroke-width="1.2" stroke-linecap="butt"/>
<text x="26.33" y="746.72" font-size="12.5" textLength="20.86" lengthAdjust="spacingAndGlyphs" fill="#231f20" stroke="#231f20" stroke-width="0.3">100</text>
<line x1="52.10" y1="697.20" x2="56.30" y2="697.20" stroke="#000" stroke-width="1.2" stroke-linecap="butt"/>
<text x="26.37" y="700.20" font-size="12.5" textLength="20.86" lengthAdjust="spacingAndGlyphs" fill="#231f20" stroke="#231f20" stroke-width="0.3">125</text>
<line x1="55.80" y1="924.80" x2="55.80" y2="929.20" stroke="#000" stroke-width="1.2" stroke-linecap="butt"/>
<text x="51.02" y="943.60" font-size="12.5" textLength="6.95" lengthAdjust="spacingAndGlyphs" fill="#231f20" stroke="#231f20" stroke-width="0.3">0</text>
<line x1="109.16" y1="924.80" x2="109.16" y2="929.20" stroke="#000" stroke-width="1.2" stroke-linecap="butt"/>
<text x="104.25" y="943.60" font-size="12.5" textLength="6.95" lengthAdjust="spacingAndGlyphs" fill="#231f20" stroke="#231f20" stroke-width="0.3">1</text>
<line x1="162.52" y1="924.80" x2="162.52" y2="929.20" stroke="#000" stroke-width="1.2" stroke-linecap="butt"/>
<text x="158.52" y="943.60" font-size="12.5" textLength="6.95" lengthAdjust="spacingAndGlyphs" fill="#231f20" stroke="#231f20" stroke-width="0.3">2</text>
<line x1="215.88" y1="924.80" x2="215.88" y2="929.20" stroke="#000" stroke-width="1.2" stroke-linecap="butt"/>
<text x="211.86" y="943.60" font-size="12.5" textLength="6.95" lengthAdjust="spacingAndGlyphs" fill="#231f20" stroke="#231f20" stroke-width="0.3">3</text>
<line x1="269.24" y1="924.80" x2="269.24" y2="929.20" stroke="#000" stroke-width="1.2" stroke-linecap="butt"/>
<text x="265.06" y="943.60" font-size="12.5" textLength="6.95" lengthAdjust="spacingAndGlyphs" fill="#231f20" stroke="#231f20" stroke-width="0.3">4</text>
<line x1="322.60" y1="924.80" x2="322.60" y2="929.20" stroke="#000" stroke-width="1.2" stroke-linecap="butt"/>
<text x="318.74" y="943.60" font-size="12.5" textLength="6.95" lengthAdjust="spacingAndGlyphs" fill="#231f20" stroke="#231f20" stroke-width="0.3">5</text>
<text x="173.98" y="959.90" font-size="14" textLength="28.37" lengthAdjust="spacingAndGlyphs" fill="#231f20" stroke="#231f20" stroke-width="0.3">Days</text>
<text transform="translate(21.40,883.73) rotate(-90)" font-size="13.4" textLength="148.57" lengthAdjust="spacingAndGlyphs" fill="#231f20" stroke="#231f20" stroke-width="0.3">Alamar Blue % Reduction</text>
<line x1="66.10" y1="702.00" x2="81.50" y2="702.00" stroke="#1a1a1a" stroke-width="1.3" stroke-linecap="butt"/>
<circle cx="73.70" cy="702.00" r="2.55" fill="none" stroke="#000" stroke-width="1.15"/>
<text x="87.97" y="705.70" font-size="10.3" textLength="30.21" lengthAdjust="spacingAndGlyphs" fill="#231f20" stroke="#231f20" stroke-width="0.3">DMSO</text>
<line x1="66.10" y1="717.70" x2="81.50" y2="717.70" stroke="#a48fbf" stroke-width="1.3" stroke-linecap="butt"/>
<circle cx="73.70" cy="717.70" r="3.10" fill="#000"/>
<text x="88.04" y="721.40" font-size="10.3" textLength="42.26" lengthAdjust="spacingAndGlyphs" fill="#231f20" stroke="#231f20" stroke-width="0.3">1µM ACF</text>
<line x1="66.10" y1="733.30" x2="81.50" y2="733.30" stroke="#dc3c3a" stroke-width="1.3" stroke-linecap="butt"/>
<rect x="70.60" y="730.20" width="6.20" height="6.20" fill="#e2312d"/>
<text x="88.40" y="737.00" font-size="10.3" textLength="41.89" lengthAdjust="spacingAndGlyphs" fill="#231f20" stroke="#231f20" stroke-width="0.3">5µM ACF</text>
<line x1="66.10" y1="749.30" x2="81.50" y2="749.30" stroke="#8fd4b8" stroke-width="1.3" stroke-linecap="butt"/>
<path d="M70.85,746.45L76.55,752.15M76.55,746.45L70.85,752.15" stroke="#000" stroke-width="1.2" fill="none"/>
<text x="88.04" y="753.00" font-size="10.3" textLength="48.06" lengthAdjust="spacingAndGlyphs" fill="#231f20" stroke="#231f20" stroke-width="0.3">10µM ACF</text>
<line x1="66.10" y1="764.80" x2="81.50" y2="764.80" stroke="#6d74c0" stroke-width="1.3" stroke-linecap="butt"/>
<rect x="70.60" y="761.70" width="6.20" height="6.20" fill="#000"/>
<text x="88.30" y="768.50" font-size="10.3" textLength="47.80" lengthAdjust="spacingAndGlyphs" fill="#231f20" stroke="#231f20" stroke-width="0.3">25µM ACF</text>
<polyline points="109.16,905.00 162.52,855.60 215.88,843.70 269.24,840.10" fill="none" stroke="#4a5fae" stroke-width="1.0" stroke-linejoin="round"/>
<polyline points="109.16,905.00 162.52,843.70 215.88,826.80 269.24,823.00" fill="none" stroke="#6cc4a0" stroke-width="1.0" stroke-linejoin="round"/>
<polyline points="109.16,906.80 162.52,822.40 215.88,787.40 269.24,782.10" fill="none" stroke="#e2312d" stroke-width="1.0" stroke-linejoin="round"/>
<polyline points="109.16,903.00 162.52,819.40 215.88,790.40 269.24,783.00" fill="none" stroke="#8f6ca6" stroke-width="1.0" stroke-linejoin="round"/>
<polyline points="109.16,903.00 162.52,811.10 215.88,772.00 269.24,760.70" fill="none" stroke="#000" stroke-width="1.15" stroke-linejoin="round"/>
<line x1="162.52" y1="851.10" x2="162.52" y2="860.10" stroke="#000" stroke-width="1.2" stroke-linecap="butt"/>
<line x1="159.72" y1="851.10" x2="165.32" y2="851.10" stroke="#000" stroke-width="1.2" stroke-linecap="butt"/>
<line x1="159.72" y1="860.10" x2="165.32" y2="860.10" stroke="#000" stroke-width="1.2" stroke-linecap="butt"/>
<line x1="215.88" y1="838.10" x2="215.88" y2="849.30" stroke="#000" stroke-width="1.2" stroke-linecap="butt"/>
<line x1="213.08" y1="838.10" x2="218.68" y2="838.10" stroke="#000" stroke-width="1.2" stroke-linecap="butt"/>
<line x1="213.08" y1="849.30" x2="218.68" y2="849.30" stroke="#000" stroke-width="1.2" stroke-linecap="butt"/>
<line x1="269.24" y1="834.10" x2="269.24" y2="846.10" stroke="#000" stroke-width="1.2" stroke-linecap="butt"/>
<line x1="266.44" y1="834.10" x2="272.04" y2="834.10" stroke="#000" stroke-width="1.2" stroke-linecap="butt"/>
<line x1="266.44" y1="846.10" x2="272.04" y2="846.10" stroke="#000" stroke-width="1.2" stroke-linecap="butt"/>
<rect x="106.06" y="901.90" width="6.20" height="6.20" fill="#000"/>
<rect x="159.42" y="852.50" width="6.20" height="6.20" fill="#000"/>
<rect x="212.78" y="840.60" width="6.20" height="6.20" fill="#000"/>
<rect x="266.14" y="837.00" width="6.20" height="6.20" fill="#000"/>
<line x1="215.88" y1="823.30" x2="215.88" y2="830.30" stroke="#000" stroke-width="1.2" stroke-linecap="butt"/>
<line x1="213.08" y1="823.30" x2="218.68" y2="823.30" stroke="#000" stroke-width="1.2" stroke-linecap="butt"/>
<line x1="213.08" y1="830.30" x2="218.68" y2="830.30" stroke="#000" stroke-width="1.2" stroke-linecap="butt"/>
<line x1="269.24" y1="819.50" x2="269.24" y2="826.50" stroke="#000" stroke-width="1.2" stroke-linecap="butt"/>
<line x1="266.44" y1="819.50" x2="272.04" y2="819.50" stroke="#000" stroke-width="1.2" stroke-linecap="butt"/>
<line x1="266.44" y1="826.50" x2="272.04" y2="826.50" stroke="#000" stroke-width="1.2" stroke-linecap="butt"/>
<path d="M106.31,902.15L112.01,907.85M112.01,902.15L106.31,907.85" stroke="#000" stroke-width="1.2" fill="none"/>
<path d="M159.67,840.85L165.37,846.55M165.37,840.85L159.67,846.55" stroke="#000" stroke-width="1.2" fill="none"/>
<path d="M213.03,823.95L218.73,829.65M218.73,823.95L213.03,829.65" stroke="#000" stroke-width="1.2" fill="none"/>
<path d="M266.39,820.15L272.09,825.85M272.09,820.15L266.39,825.85" stroke="#000" stroke-width="1.2" fill="none"/>
<line x1="162.52" y1="817.40" x2="162.52" y2="827.40" stroke="#e2312d" stroke-width="1.2" stroke-linecap="butt"/>
<line x1="159.72" y1="817.40" x2="165.32" y2="817.40" stroke="#e2312d" stroke-width="1.2" stroke-linecap="butt"/>
<line x1="159.72" y1="827.40" x2="165.32" y2="827.40" stroke="#e2312d" stroke-width="1.2" stroke-linecap="butt"/>
<line x1="215.88" y1="782.40" x2="215.88" y2="792.40" stroke="#e2312d" stroke-width="1.2" stroke-linecap="butt"/>
<line x1="213.08" y1="782.40" x2="218.68" y2="782.40" stroke="#e2312d" stroke-width="1.2" stroke-linecap="butt"/>
<line x1="213.08" y1="792.40" x2="218.68" y2="792.40" stroke="#e2312d" stroke-width="1.2" stroke-linecap="butt"/>
<line x1="269.24" y1="778.60" x2="269.24" y2="785.60" stroke="#e2312d" stroke-width="1.2" stroke-linecap="butt"/>
<line x1="266.44" y1="778.60" x2="272.04" y2="778.60" stroke="#e2312d" stroke-width="1.2" stroke-linecap="butt"/>
<line x1="266.44" y1="785.60" x2="272.04" y2="785.60" stroke="#e2312d" stroke-width="1.2" stroke-linecap="butt"/>
<rect x="106.06" y="903.70" width="6.20" height="6.20" fill="#e2312d"/>
<rect x="159.42" y="819.30" width="6.20" height="6.20" fill="#e2312d"/>
<rect x="212.78" y="784.30" width="6.20" height="6.20" fill="#e2312d"/>
<rect x="266.14" y="779.00" width="6.20" height="6.20" fill="#e2312d"/>
<line x1="162.52" y1="816.40" x2="162.52" y2="822.40" stroke="#000" stroke-width="1.2" stroke-linecap="butt"/>
<line x1="159.72" y1="816.40" x2="165.32" y2="816.40" stroke="#000" stroke-width="1.2" stroke-linecap="butt"/>
<line x1="159.72" y1="822.40" x2="165.32" y2="822.40" stroke="#000" stroke-width="1.2" stroke-linecap="butt"/>
<line x1="215.88" y1="787.40" x2="215.88" y2="793.40" stroke="#000" stroke-width="1.2" stroke-linecap="butt"/>
<line x1="213.08" y1="787.40" x2="218.68" y2="787.40" stroke="#000" stroke-width="1.2" stroke-linecap="butt"/>
<line x1="213.08" y1="793.40" x2="218.68" y2="793.40" stroke="#000" stroke-width="1.2" stroke-linecap="butt"/>
<line x1="269.24" y1="780.50" x2="269.24" y2="785.50" stroke="#000" stroke-width="1.2" stroke-linecap="butt"/>
<line x1="266.44" y1="780.50" x2="272.04" y2="780.50" stroke="#000" stroke-width="1.2" stroke-linecap="butt"/>
<line x1="266.44" y1="785.50" x2="272.04" y2="785.50" stroke="#000" stroke-width="1.2" stroke-linecap="butt"/>
<circle cx="109.16" cy="903.00" r="3.10" fill="#000"/>
<circle cx="162.52" cy="819.40" r="3.10" fill="#000"/>
<circle cx="215.88" cy="790.40" r="3.10" fill="#000"/>
<circle cx="269.24" cy="783.00" r="3.10" fill="#000"/>
<line x1="162.52" y1="802.20" x2="162.52" y2="808.00" stroke="#000" stroke-width="1.2" stroke-linecap="butt"/>
<line x1="162.52" y1="814.20" x2="162.52" y2="820.00" stroke="#000" stroke-width="1.2" stroke-linecap="butt"/>
<line x1="159.72" y1="802.20" x2="165.32" y2="802.20" stroke="#000" stroke-width="1.2" stroke-linecap="butt"/>
<line x1="159.72" y1="820.00" x2="165.32" y2="820.00" stroke="#000" stroke-width="1.2" stroke-linecap="butt"/>
<line x1="215.88" y1="762.40" x2="215.88" y2="768.90" stroke="#000" stroke-width="1.2" stroke-linecap="butt"/>
<line x1="215.88" y1="775.10" x2="215.88" y2="781.60" stroke="#000" stroke-width="1.2" stroke-linecap="butt"/>
<line x1="213.08" y1="762.40" x2="218.68" y2="762.40" stroke="#000" stroke-width="1.2" stroke-linecap="butt"/>
<line x1="213.08" y1="781.60" x2="218.68" y2="781.60" stroke="#000" stroke-width="1.2" stroke-linecap="butt"/>
<line x1="269.24" y1="752.70" x2="269.24" y2="757.60" stroke="#000" stroke-width="1.2" stroke-linecap="butt"/>
<line x1="269.24" y1="763.80" x2="269.24" y2="768.70" stroke="#000" stroke-width="1.2" stroke-linecap="butt"/>
<line x1="266.44" y1="752.70" x2="272.04" y2="752.70" stroke="#000" stroke-width="1.2" stroke-linecap="butt"/>
<line x1="266.44" y1="768.70" x2="272.04" y2="768.70" stroke="#000" stroke-width="1.2" stroke-linecap="butt"/>
<circle cx="109.16" cy="903.00" r="2.55" fill="none" stroke="#000" stroke-width="1.15"/>
<circle cx="162.52" cy="811.10" r="2.55" fill="none" stroke="#000" stroke-width="1.15"/>
<circle cx="215.88" cy="772.00" r="2.55" fill="none" stroke="#000" stroke-width="1.15"/>
<circle cx="269.24" cy="760.70" r="2.55" fill="none" stroke="#000" stroke-width="1.15"/>
<text x="349.98" y="659.30" font-size="13.2" textLength="6.12" lengthAdjust="spacingAndGlyphs" fill="#231f20" stroke="#231f20" stroke-width="0.3">F</text>
<text x="410.66" y="679.70" font-size="12.9" textLength="126.04" lengthAdjust="spacingAndGlyphs" fill="#231f20" stroke="#231f20" stroke-width="0.3">HSR040821 - Hypoxia</text>
<line x1="402.50" y1="695.10" x2="402.50" y2="927.60" stroke="#000" stroke-width="1.25" stroke-linecap="butt"/>
<line x1="398.30" y1="923.20" x2="669.50" y2="923.20" stroke="#000" stroke-width="1.25" stroke-linecap="butt"/>
<line x1="398.30" y1="923.20" x2="402.50" y2="923.20" stroke="#000" stroke-width="1.2" stroke-linecap="butt"/>
<text x="378.51" y="928.40" font-size="12.5" textLength="17.38" lengthAdjust="spacingAndGlyphs" fill="#231f20" stroke="#231f20" stroke-width="0.3">0.0</text>
<line x1="398.30" y1="877.68" x2="402.50" y2="877.68" stroke="#000" stroke-width="1.2" stroke-linecap="butt"/>
<text x="382.02" y="881.68" font-size="12.5" textLength="13.90" lengthAdjust="spacingAndGlyphs" fill="#231f20" stroke="#231f20" stroke-width="0.3">25</text>
<line x1="398.30" y1="832.16" x2="402.50" y2="832.16" stroke="#000" stroke-width="1.2" stroke-linecap="butt"/>
<text x="381.98" y="836.16" font-size="12.5" textLength="13.90" lengthAdjust="spacingAndGlyphs" fill="#231f20" stroke="#231f20" stroke-width="0.3">50</text>
<line x1="398.30" y1="786.64" x2="402.50" y2="786.64" stroke="#000" stroke-width="1.2" stroke-linecap="butt"/>
<text x="382.02" y="790.64" font-size="12.5" textLength="13.90" lengthAdjust="spacingAndGlyphs" fill="#231f20" stroke="#231f20" stroke-width="0.3">75</text>
<line x1="398.30" y1="741.12" x2="402.50" y2="741.12" stroke="#000" stroke-width="1.2" stroke-linecap="butt"/>
<text x="375.03" y="745.12" font-size="12.5" textLength="20.86" lengthAdjust="spacingAndGlyphs" fill="#231f20" stroke="#231f20" stroke-width="0.3">100</text>
<line x1="398.30" y1="695.60" x2="402.50" y2="695.60" stroke="#000" stroke-width="1.2" stroke-linecap="butt"/>
<text x="375.07" y="698.60" font-size="12.5" textLength="20.86" lengthAdjust="spacingAndGlyphs" fill="#231f20" stroke="#231f20" stroke-width="0.3">125</text>
<line x1="402.20" y1="923.20" x2="402.20" y2="927.60" stroke="#000" stroke-width="1.2" stroke-linecap="butt"/>
<text x="399.72" y="943.60" font-size="12.5" textLength="6.95" lengthAdjust="spacingAndGlyphs" fill="#231f20" stroke="#231f20" stroke-width="0.3">0</text>
<line x1="455.56" y1="923.20" x2="455.56" y2="927.60" stroke="#000" stroke-width="1.2" stroke-linecap="butt"/>
<text x="452.95" y="943.60" font-size="12.5" textLength="6.95" lengthAdjust="spacingAndGlyphs" fill="#231f20" stroke="#231f20" stroke-width="0.3">1</text>
<line x1="508.92" y1="923.20" x2="508.92" y2="927.60" stroke="#000" stroke-width="1.2" stroke-linecap="butt"/>
<text x="507.22" y="943.60" font-size="12.5" textLength="6.95" lengthAdjust="spacingAndGlyphs" fill="#231f20" stroke="#231f20" stroke-width="0.3">2</text>
<line x1="562.28" y1="923.20" x2="562.28" y2="927.60" stroke="#000" stroke-width="1.2" stroke-linecap="butt"/>
<text x="560.56" y="943.60" font-size="12.5" textLength="6.95" lengthAdjust="spacingAndGlyphs" fill="#231f20" stroke="#231f20" stroke-width="0.3">3</text>
<line x1="615.64" y1="923.20" x2="615.64" y2="927.60" stroke="#000" stroke-width="1.2" stroke-linecap="butt"/>
<text x="613.76" y="943.60" font-size="12.5" textLength="6.95" lengthAdjust="spacingAndGlyphs" fill="#231f20" stroke="#231f20" stroke-width="0.3">4</text>
<line x1="669.00" y1="923.20" x2="669.00" y2="927.60" stroke="#000" stroke-width="1.2" stroke-linecap="butt"/>
<text x="667.44" y="943.60" font-size="12.5" textLength="6.95" lengthAdjust="spacingAndGlyphs" fill="#231f20" stroke="#231f20" stroke-width="0.3">5</text>
<text x="522.68" y="959.90" font-size="14" textLength="28.37" lengthAdjust="spacingAndGlyphs" fill="#231f20" stroke="#231f20" stroke-width="0.3">Days</text>
<text transform="translate(370.10,883.73) rotate(-90)" font-size="13.4" textLength="148.57" lengthAdjust="spacingAndGlyphs" fill="#231f20" stroke="#231f20" stroke-width="0.3">Alamar Blue % Reduction</text>
<line x1="414.80" y1="702.00" x2="430.20" y2="702.00" stroke="#1a1a1a" stroke-width="1.3" stroke-linecap="butt"/>
<circle cx="422.40" cy="702.00" r="2.55" fill="none" stroke="#000" stroke-width="1.15"/>
<text x="436.67" y="705.70" font-size="10.3" textLength="30.21" lengthAdjust="spacingAndGlyphs" fill="#231f20" stroke="#231f20" stroke-width="0.3">DMSO</text>
<line x1="414.80" y1="717.70" x2="430.20" y2="717.70" stroke="#a48fbf" stroke-width="1.3" stroke-linecap="butt"/>
<circle cx="422.40" cy="717.70" r="3.10" fill="#000"/>
<text x="436.74" y="721.40" font-size="10.3" textLength="42.26" lengthAdjust="spacingAndGlyphs" fill="#231f20" stroke="#231f20" stroke-width="0.3">1µM ACF</text>
<line x1="414.80" y1="733.30" x2="430.20" y2="733.30" stroke="#dc3c3a" stroke-width="1.3" stroke-linecap="butt"/>
<rect x="419.30" y="730.20" width="6.20" height="6.20" fill="#e2312d"/>
<text x="437.10" y="737.00" font-size="10.3" textLength="41.89" lengthAdjust="spacingAndGlyphs" fill="#231f20" stroke="#231f20" stroke-width="0.3">5µM ACF</text>
<line x1="414.80" y1="749.30" x2="430.20" y2="749.30" stroke="#8fd4b8" stroke-width="1.3" stroke-linecap="butt"/>
<path d="M419.55,746.45L425.25,752.15M425.25,746.45L419.55,752.15" stroke="#000" stroke-width="1.2" fill="none"/>
<text x="436.74" y="753.00" font-size="10.3" textLength="48.06" lengthAdjust="spacingAndGlyphs" fill="#231f20" stroke="#231f20" stroke-width="0.3">10µM ACF</text>
<line x1="414.80" y1="764.80" x2="430.20" y2="764.80" stroke="#6d74c0" stroke-width="1.3" stroke-linecap="butt"/>
<rect x="419.30" y="761.70" width="6.20" height="6.20" fill="#000"/>
<text x="437.00" y="768.50" font-size="10.3" textLength="47.80" lengthAdjust="spacingAndGlyphs" fill="#231f20" stroke="#231f20" stroke-width="0.3">25µM ACF</text>
<polyline points="457.26,912.00 510.62,893.60 563.98,892.40 617.34,890.30" fill="none" stroke="#4a5fae" stroke-width="1.0" stroke-linejoin="round"/>
<polyline points="457.26,912.00 510.62,886.40 563.98,884.70 617.34,883.20" fill="none" stroke="#6cc4a0" stroke-width="1.0" stroke-linejoin="round"/>
<polyline points="457.26,912.20 510.62,859.50 563.98,845.00 617.34,842.60" fill="none" stroke="#e2312d" stroke-width="1.0" stroke-linejoin="round"/>
<polyline points="457.26,911.30 510.62,838.10 563.98,773.00 617.34,752.20" fill="none" stroke="#8f6ca6" stroke-width="1.0" stroke-linejoin="round"/>
<polyline points="457.26,911.30 510.62,827.80 563.98,755.20 617.34,752.20" fill="none" stroke="#000" stroke-width="1.15" stroke-linejoin="round"/>
<rect x="454.16" y="908.90" width="6.20" height="6.20" fill="#000"/>
<rect x="507.52" y="890.50" width="6.20" height="6.20" fill="#000"/>
<rect x="560.88" y="889.30" width="6.20" height="6.20" fill="#000"/>
<rect x="614.24" y="887.20" width="6.20" height="6.20" fill="#000"/>
<path d="M454.41,909.15L460.11,914.85M460.11,909.15L454.41,914.85" stroke="#000" stroke-width="1.2" fill="none"/>
<path d="M507.77,883.55L513.47,889.25M513.47,883.55L507.77,889.25" stroke="#000" stroke-width="1.2" fill="none"/>
<path d="M561.13,881.85L566.83,887.55M566.83,881.85L561.13,887.55" stroke="#000" stroke-width="1.2" fill="none"/>
<path d="M614.49,880.35L620.19,886.05M620.19,880.35L614.49,886.05" stroke="#000" stroke-width="1.2" fill="none"/>
<line x1="510.62" y1="855.00" x2="510.62" y2="864.00" stroke="#e2312d" stroke-width="1.2" stroke-linecap="butt"/>
<line x1="507.82" y1="855.00" x2="513.42" y2="855.00" stroke="#e2312d" stroke-width="1.2" stroke-linecap="butt"/>
<line x1="507.82" y1="864.00" x2="513.42" y2="864.00" stroke="#e2312d" stroke-width="1.2" stroke-linecap="butt"/>
<line x1="563.98" y1="840.00" x2="563.98" y2="850.00" stroke="#e2312d" stroke-width="1.2" stroke-linecap="butt"/>
<line x1="561.18" y1="840.00" x2="566.78" y2="840.00" stroke="#e2312d" stroke-width="1.2" stroke-linecap="butt"/>
<line x1="561.18" y1="850.00" x2="566.78" y2="850.00" stroke="#e2312d" stroke-width="1.2" stroke-linecap="butt"/>
<line x1="617.34" y1="837.10" x2="617.34" y2="848.10" stroke="#e2312d" stroke-width="1.2" stroke-linecap="butt"/>
<line x1="614.54" y1="837.10" x2="620.14" y2="837.10" stroke="#e2312d" stroke-width="1.2" stroke-linecap="butt"/>
<line x1="614.54" y1="848.10" x2="620.14" y2="848.10" stroke="#e2312d" stroke-width="1.2" stroke-linecap="butt"/>
<rect x="454.16" y="909.10" width="6.20" height="6.20" fill="#e2312d"/>
<rect x="507.52" y="856.40" width="6.20" height="6.20" fill="#e2312d"/>
<rect x="560.88" y="841.90" width="6.20" height="6.20" fill="#e2312d"/>
<rect x="614.24" y="839.50" width="6.20" height="6.20" fill="#e2312d"/>
<line x1="510.62" y1="832.10" x2="510.62" y2="844.10" stroke="#000" stroke-width="1.2" stroke-linecap="butt"/>
<line x1="507.82" y1="832.10" x2="513.42" y2="832.10" stroke="#000" stroke-width="1.2" stroke-linecap="butt"/>
<line x1="507.82" y1="844.10" x2="513.42" y2="844.10" stroke="#000" stroke-width="1.2" stroke-linecap="butt"/>
<line x1="563.98" y1="764.50" x2="563.98" y2="781.50" stroke="#000" stroke-width="1.2" stroke-linecap="butt"/>
<line x1="561.18" y1="764.50" x2="566.78" y2="764.50" stroke="#000" stroke-width="1.2" stroke-linecap="butt"/>
<line x1="561.18" y1="781.50" x2="566.78" y2="781.50" stroke="#000" stroke-width="1.2" stroke-linecap="butt"/>
<line x1="617.34" y1="744.20" x2="617.34" y2="760.20" stroke="#000" stroke-width="1.2" stroke-linecap="butt"/>
<line x1="614.54" y1="744.20" x2="620.14" y2="744.20" stroke="#000" stroke-width="1.2" stroke-linecap="butt"/>
<line x1="614.54" y1="760.20" x2="620.14" y2="760.20" stroke="#000" stroke-width="1.2" stroke-linecap="butt"/>
<circle cx="457.26" cy="911.30" r="3.10" fill="#000"/>
<circle cx="510.62" cy="838.10" r="3.10" fill="#000"/>
<circle cx="563.98" cy="773.00" r="3.10" fill="#000"/>
<circle cx="617.34" cy="752.20" r="3.10" fill="#000"/>
<line x1="510.62" y1="823.30" x2="510.62" y2="824.70" stroke="#000" stroke-width="1.2" stroke-linecap="butt"/>
<line x1="510.62" y1="830.90" x2="510.62" y2="832.30" stroke="#000" stroke-width="1.2" stroke-linecap="butt"/>
<line x1="507.82" y1="823.30" x2="513.42" y2="823.30" stroke="#000" stroke-width="1.2" stroke-linecap="butt"/>
<line x1="507.82" y1="832.30" x2="513.42" y2="832.30" stroke="#000" stroke-width="1.2" stroke-linecap="butt"/>
<line x1="563.98" y1="744.50" x2="563.98" y2="752.10" stroke="#000" stroke-width="1.2" stroke-linecap="butt"/>
<line x1="563.98" y1="758.30" x2="563.98" y2="765.90" stroke="#000" stroke-width="1.2" stroke-linecap="butt"/>
<line x1="561.18" y1="744.50" x2="566.78" y2="744.50" stroke="#000" stroke-width="1.2" stroke-linecap="butt"/>
<line x1="561.18" y1="765.90" x2="566.78" y2="765.90" stroke="#000" stroke-width="1.2" stroke-linecap="butt"/>
<line x1="617.34" y1="742.20" x2="617.34" y2="749.10" stroke="#000" stroke-width="1.2" stroke-linecap="butt"/>
<line x1="617.34" y1="755.30" x2="617.34" y2="762.20" stroke="#000" stroke-width="1.2" stroke-linecap="butt"/>
<line x1="614.54" y1="742.20" x2="620.14" y2="742.20" stroke="#000" stroke-width="1.2" stroke-linecap="butt"/>
<line x1="614.54" y1="762.20" x2="620.14" y2="762.20" stroke="#000" stroke-width="1.2" stroke-linecap="butt"/>
<circle cx="457.26" cy="911.30" r="2.55" fill="none" stroke="#000" stroke-width="1.15"/>
<circle cx="510.62" cy="827.80" r="2.55" fill="none" stroke="#000" stroke-width="1.15"/>
<circle cx="563.98" cy="755.20" r="2.55" fill="none" stroke="#000" stroke-width="1.15"/>
<circle cx="617.34" cy="752.20" r="2.55" fill="none" stroke="#000" stroke-width="1.15"/>
<text x="1.04" y="981.60" font-size="13" textLength="8.70" lengthAdjust="spacingAndGlyphs" fill="#231f20" stroke="#231f20" stroke-width="0.3">G</text>
<text x="67.99" y="1005.60" font-size="11.2" textLength="58.65" lengthAdjust="spacingAndGlyphs" fill="#231f20" stroke="#231f20" stroke-width="0.3">HSR-GBM1</text>
<line x1="55.10" y1="1002.10" x2="55.10" y2="1206.00" stroke="#000" stroke-width="1.3" stroke-linecap="butt"/>
<line x1="51.10" y1="1201.60" x2="320.55" y2="1201.60" stroke="#000" stroke-width="1.3" stroke-linecap="butt"/>
<line x1="51.10" y1="1201.60" x2="55.10" y2="1201.60" stroke="#000" stroke-width="1.2" stroke-linecap="butt"/>
<text x="31.26" y="1205.70" font-size="11.8" textLength="16.40" lengthAdjust="spacingAndGlyphs" fill="#231f20" stroke="#231f20" stroke-width="0.3">0.0</text>
<line x1="51.10" y1="1161.80" x2="55.10" y2="1161.80" stroke="#000" stroke-width="1.2" stroke-linecap="butt"/>
<text x="34.57" y="1165.90" font-size="11.8" textLength="13.13" lengthAdjust="spacingAndGlyphs" fill="#231f20" stroke="#231f20" stroke-width="0.3">25</text>
<line x1="51.10" y1="1122.00" x2="55.10" y2="1122.00" stroke="#000" stroke-width="1.2" stroke-linecap="butt"/>
<text x="34.54" y="1126.10" font-size="11.8" textLength="13.13" lengthAdjust="spacingAndGlyphs" fill="#231f20" stroke="#231f20" stroke-width="0.3">50</text>
<line x1="51.10" y1="1082.20" x2="55.10" y2="1082.20" stroke="#000" stroke-width="1.2" stroke-linecap="butt"/>
<text x="34.57" y="1086.30" font-size="11.8" textLength="13.13" lengthAdjust="spacingAndGlyphs" fill="#231f20" stroke="#231f20" stroke-width="0.3">75</text>
<line x1="51.10" y1="1042.40" x2="55.10" y2="1042.40" stroke="#000" stroke-width="1.2" stroke-linecap="butt"/>
<text x="27.97" y="1046.50" font-size="11.8" textLength="19.69" lengthAdjust="spacingAndGlyphs" fill="#231f20" stroke="#231f20" stroke-width="0.3">100</text>
<line x1="51.10" y1="1002.60" x2="55.10" y2="1002.60" stroke="#000" stroke-width="1.2" stroke-linecap="butt"/>
<text x="28.01" y="1006.70" font-size="11.8" textLength="19.69" lengthAdjust="spacingAndGlyphs" fill="#231f20" stroke="#231f20" stroke-width="0.3">125</text>
<line x1="54.80" y1="1201.60" x2="54.80" y2="1205.80" stroke="#000" stroke-width="1.2" stroke-linecap="butt"/>
<text x="51.66" y="1218.20" font-size="12" textLength="6.67" lengthAdjust="spacingAndGlyphs" fill="#231f20" stroke="#231f20" stroke-width="0.3">0</text>
<line x1="107.85" y1="1201.60" x2="107.85" y2="1205.80" stroke="#000" stroke-width="1.2" stroke-linecap="butt"/>
<text x="104.55" y="1218.20" font-size="12" textLength="6.67" lengthAdjust="spacingAndGlyphs" fill="#231f20" stroke="#231f20" stroke-width="0.3">1</text>
<line x1="160.90" y1="1201.60" x2="160.90" y2="1205.80" stroke="#000" stroke-width="1.2" stroke-linecap="butt"/>
<text x="157.76" y="1218.20" font-size="12" textLength="6.67" lengthAdjust="spacingAndGlyphs" fill="#231f20" stroke="#231f20" stroke-width="0.3">2</text>
<line x1="213.95" y1="1201.60" x2="213.95" y2="1205.80" stroke="#000" stroke-width="1.2" stroke-linecap="butt"/>
<text x="210.85" y="1218.20" font-size="12" textLength="6.67" lengthAdjust="spacingAndGlyphs" fill="#231f20" stroke="#231f20" stroke-width="0.3">3</text>
<line x1="267.00" y1="1201.60" x2="267.00" y2="1205.80" stroke="#000" stroke-width="1.2" stroke-linecap="butt"/>
<text x="263.90" y="1218.20" font-size="12" textLength="6.67" lengthAdjust="spacingAndGlyphs" fill="#231f20" stroke="#231f20" stroke-width="0.3">4</text>
<line x1="320.05" y1="1201.60" x2="320.05" y2="1205.80" stroke="#000" stroke-width="1.2" stroke-linecap="butt"/>
<text x="316.92" y="1218.20" font-size="12" textLength="6.67" lengthAdjust="spacingAndGlyphs" fill="#231f20" stroke="#231f20" stroke-width="0.3">5</text>
<text x="174.04" y="1229.00" font-size="13.4" textLength="26.58" lengthAdjust="spacingAndGlyphs" fill="#231f20" stroke="#231f20" stroke-width="0.3">Days</text>
<text transform="translate(25.80,1171.22) rotate(-90)" font-size="12.2" textLength="140.42" lengthAdjust="spacingAndGlyphs" fill="#231f20" stroke="#231f20" stroke-width="0.3">Alamar Blue % Reduction</text>
<line x1="61.30" y1="1018.40" x2="76.80" y2="1018.40" stroke="#000" stroke-width="1.6" stroke-linecap="butt"/>
<path d="M69.10,1014.99L72.20,1020.73L66.00,1020.73Z" fill="#000"/>
<text x="81.61" y="1021.50" font-size="9.0" textLength="41.87" lengthAdjust="spacingAndGlyphs" fill="#231f20" stroke="#231f20" stroke-width="0.4">GFP DMSO</text>
<line x1="61.30" y1="1029.00" x2="76.80" y2="1029.00" stroke="#000" stroke-width="1.6" stroke-linecap="butt"/>
<circle cx="69.10" cy="1029.00" r="3.10" fill="#000"/>
<text x="81.61" y="1032.10" font-size="9.0" textLength="51.61" lengthAdjust="spacingAndGlyphs" fill="#231f20" stroke="#231f20" stroke-width="0.4">GFP 5µM ACF</text>
<line x1="61.30" y1="1039.50" x2="76.80" y2="1039.50" stroke="#e02b2b" stroke-width="1.6" stroke-linecap="butt"/>
<path d="M69.10,1042.91L72.20,1037.17L66.00,1037.17Z" fill="#e02b2b"/>
<text x="81.30" y="1042.60" font-size="9.0" textLength="69.81" lengthAdjust="spacingAndGlyphs" fill="#231f20" stroke="#231f20" stroke-width="0.4">HIF-1α DM DMSO</text>
<line x1="61.30" y1="1050.10" x2="76.80" y2="1050.10" stroke="#e02b2b" stroke-width="1.6" stroke-linecap="butt"/>
<path d="M69.10,1046.69L72.20,1052.42L66.00,1052.42Z" fill="#e02b2b"/>
<text x="81.32" y="1053.20" font-size="9.0" textLength="78.62" lengthAdjust="spacingAndGlyphs" fill="#231f20" stroke="#231f20" stroke-width="0.4">HIF-1α DM 5µM ACF</text>
<line x1="61.30" y1="1060.50" x2="76.80" y2="1060.50" stroke="#4357a7" stroke-width="1.6" stroke-linecap="butt"/>
<path d="M69.10,1057.10L72.50,1060.50L69.10,1063.90L65.70,1060.50Z" fill="#4357a7"/>
<text x="81.32" y="1063.60" font-size="9.0" textLength="67.98" lengthAdjust="spacingAndGlyphs" fill="#231f20" stroke="#231f20" stroke-width="0.4">HIF-2α DM DMSO</text>
<line x1="61.30" y1="1071.00" x2="76.80" y2="1071.00" stroke="#4357a7" stroke-width="1.6" stroke-linecap="butt"/>
<rect x="66.00" y="1067.90" width="6.20" height="6.20" fill="#4357a7"/>
<text x="81.32" y="1074.10" font-size="9.0" textLength="78.62" lengthAdjust="spacingAndGlyphs" fill="#231f20" stroke="#231f20" stroke-width="0.4">HIF-2α DM 5µM ACF</text>
<polyline points="107.90,1172.70 161.00,1088.70 214.10,1053.70 267.00,1038.30" fill="none" stroke="#000" stroke-width="1.5" stroke-linejoin="round"/>
<polyline points="107.90,1176.70 161.00,1126.70 214.10,1114.10 267.00,1111.90" fill="none" stroke="#000" stroke-width="1.5" stroke-linejoin="round"/>
<polyline points="107.90,1184.00 161.00,1107.30 214.10,1058.30 267.00,1035.40" fill="none" stroke="#e02b2b" stroke-width="1.5" stroke-linejoin="round"/>
<polyline points="107.90,1187.30 161.00,1155.30 214.10,1145.70 267.00,1144.70" fill="none" stroke="#e02b2b" stroke-width="1.5" stroke-linejoin="round"/>
<polyline points="107.90,1178.70 161.00,1098.70 214.10,1055.00 267.00,1039.00" fill="none" stroke="#4357a7" stroke-width="1.5" stroke-linejoin="round"/>
<polyline points="107.90,1180.00 161.00,1146.30 214.10,1135.40 267.00,1133.30" fill="none" stroke="#4357a7" stroke-width="1.5" stroke-linejoin="round"/>
<path d="M107.90,1169.95L110.40,1174.58L105.40,1174.58Z" fill="#000"/>
<line x1="161.00" y1="1085.30" x2="161.00" y2="1092.10" stroke="#000" stroke-width="1.6" stroke-linecap="butt"/>
<line x1="158.00" y1="1085.30" x2="164.00" y2="1085.30" stroke="#000" stroke-width="1.6" stroke-linecap="butt"/>
<line x1="158.00" y1="1092.10" x2="164.00" y2="1092.10" stroke="#000" stroke-width="1.6" stroke-linecap="butt"/>
<path d="M161.00,1085.95L163.50,1090.58L158.50,1090.58Z" fill="#000"/>
<line x1="214.10" y1="1049.00" x2="214.10" y2="1058.40" stroke="#000" stroke-width="1.6" stroke-linecap="butt"/>
<line x1="211.10" y1="1049.00" x2="217.10" y2="1049.00" stroke="#000" stroke-width="1.6" stroke-linecap="butt"/>
<line x1="211.10" y1="1058.40" x2="217.10" y2="1058.40" stroke="#000" stroke-width="1.6" stroke-linecap="butt"/>
<path d="M214.10,1050.95L216.60,1055.58L211.60,1055.58Z" fill="#000"/>
<line x1="267.00" y1="1034.60" x2="267.00" y2="1042.00" stroke="#000" stroke-width="1.6" stroke-linecap="butt"/>
<line x1="264.00" y1="1034.60" x2="270.00" y2="1034.60" stroke="#000" stroke-width="1.6" stroke-linecap="butt"/>
<line x1="264.00" y1="1042.00" x2="270.00" y2="1042.00" stroke="#000" stroke-width="1.6" stroke-linecap="butt"/>
<path d="M267.00,1035.55L269.50,1040.17L264.50,1040.17Z" fill="#000"/>
<line x1="107.90" y1="1174.20" x2="107.90" y2="1179.20" stroke="#000" stroke-width="1.6" stroke-linecap="butt"/>
<line x1="104.90" y1="1174.20" x2="110.90" y2="1174.20" stroke="#000" stroke-width="1.6" stroke-linecap="butt"/>
<line x1="104.90" y1="1179.20" x2="110.90" y2="1179.20" stroke="#000" stroke-width="1.6" stroke-linecap="butt"/>
<circle cx="107.90" cy="1176.70" r="2.50" fill="#000"/>
<line x1="161.00" y1="1122.20" x2="161.00" y2="1131.20" stroke="#000" stroke-width="1.6" stroke-linecap="butt"/>
<line x1="158.00" y1="1122.20" x2="164.00" y2="1122.20" stroke="#000" stroke-width="1.6" stroke-linecap="butt"/>
<line x1="158.00" y1="1131.20" x2="164.00" y2="1131.20" stroke="#000" stroke-width="1.6" stroke-linecap="butt"/>
<circle cx="161.00" cy="1126.70" r="2.50" fill="#000"/>
<line x1="214.10" y1="1109.20" x2="214.10" y2="1119.00" stroke="#000" stroke-width="1.6" stroke-linecap="butt"/>
<line x1="211.10" y1="1109.20" x2="217.10" y2="1109.20" stroke="#000" stroke-width="1.6" stroke-linecap="butt"/>
<line x1="211.10" y1="1119.00" x2="217.10" y2="1119.00" stroke="#000" stroke-width="1.6" stroke-linecap="butt"/>
<circle cx="214.10" cy="1114.10" r="2.50" fill="#000"/>
<line x1="267.00" y1="1106.70" x2="267.00" y2="1117.10" stroke="#000" stroke-width="1.6" stroke-linecap="butt"/>
<line x1="264.00" y1="1106.70" x2="270.00" y2="1106.70" stroke="#000" stroke-width="1.6" stroke-linecap="butt"/>
<line x1="264.00" y1="1117.10" x2="270.00" y2="1117.10" stroke="#000" stroke-width="1.6" stroke-linecap="butt"/>
<circle cx="267.00" cy="1111.90" r="2.50" fill="#000"/>
<path d="M107.90,1186.75L110.40,1182.12L105.40,1182.12Z" fill="#e02b2b"/>
<path d="M161.00,1110.05L163.50,1105.42L158.50,1105.42Z" fill="#e02b2b"/>
<path d="M214.10,1061.05L216.60,1056.42L211.60,1056.42Z" fill="#e02b2b"/>
<path d="M267.00,1038.15L269.50,1033.53L264.50,1033.53Z" fill="#e02b2b"/>
<path d="M107.90,1184.55L110.40,1189.17L105.40,1189.17Z" fill="#e02b2b"/>
<path d="M161.00,1152.55L163.50,1157.17L158.50,1157.17Z" fill="#e02b2b"/>
<path d="M214.10,1142.95L216.60,1147.58L211.60,1147.58Z" fill="#e02b2b"/>
<path d="M267.00,1141.95L269.50,1146.58L264.50,1146.58Z" fill="#e02b2b"/>
<path d="M107.90,1175.50L111.10,1178.70L107.90,1181.90L104.70,1178.70Z" fill="#4357a7"/>
<line x1="161.00" y1="1096.20" x2="161.00" y2="1101.20" stroke="#4357a7" stroke-width="1.6" stroke-linecap="butt"/>
<line x1="158.00" y1="1096.20" x2="164.00" y2="1096.20" stroke="#4357a7" stroke-width="1.6" stroke-linecap="butt"/>
<line x1="158.00" y1="1101.20" x2="164.00" y2="1101.20" stroke="#4357a7" stroke-width="1.6" stroke-linecap="butt"/>
<path d="M161.00,1095.50L164.20,1098.70L161.00,1101.90L157.80,1098.70Z" fill="#4357a7"/>
<path d="M214.10,1051.80L217.30,1055.00L214.10,1058.20L210.90,1055.00Z" fill="#4357a7"/>
<path d="M267.00,1035.80L270.20,1039.00L267.00,1042.20L263.80,1039.00Z" fill="#4357a7"/>
<rect x="105.40" y="1177.50" width="5.00" height="5.00" fill="#4357a7"/>
<rect x="158.50" y="1143.80" width="5.00" height="5.00" fill="#4357a7"/>
<rect x="211.60" y="1132.90" width="5.00" height="5.00" fill="#4357a7"/>
<rect x="264.50" y="1130.80" width="5.00" height="5.00" fill="#4357a7"/>
<path d="M275.0,1038.1H278.6V1144.3H275.0M275.0,1111.1H278.6M275.0,1132.6H278.6" fill="none" stroke="#3a3a3a" stroke-width="1.2"/>
<path d="M294.7,1112.2H298.3V1145.1H294.7M294.7,1133.3H298.3" fill="none" stroke="#3a3a3a" stroke-width="1.2"/>
<path d="M281.30,1108.00H284.30M282.05,1106.69L283.55,1109.31M283.55,1106.69L282.05,1109.31" stroke="#555555" stroke-width="1.0" fill="none"/>
<path d="M281.30,1112.30H284.30M282.05,1110.99L283.55,1113.61M283.55,1110.99L282.05,1113.61" stroke="#555555" stroke-width="1.0" fill="none"/>
<path d="M281.30,1116.50H284.30M282.05,1115.19L283.55,1117.81M283.55,1115.19L282.05,1117.81" stroke="#555555" stroke-width="1.0" fill="none"/>
<path d="M281.30,1124.40H284.30M282.05,1123.10L283.55,1125.71M283.55,1123.10L282.05,1125.71" stroke="#555555" stroke-width="1.0" fill="none"/>
<path d="M281.30,1128.80H284.30M282.05,1127.49L283.55,1130.11M283.55,1127.49L282.05,1130.11" stroke="#555555" stroke-width="1.0" fill="none"/>
<path d="M281.30,1133.10H284.30M282.05,1131.79L283.55,1134.40M283.55,1131.79L282.05,1134.40" stroke="#555555" stroke-width="1.0" fill="none"/>
<path d="M281.30,1141.20H284.30M282.05,1139.89L283.55,1142.51M283.55,1139.89L282.05,1142.51" stroke="#555555" stroke-width="1.0" fill="none"/>
<path d="M281.30,1145.40H284.30M282.05,1144.10L283.55,1146.71M283.55,1144.10L282.05,1146.71" stroke="#555555" stroke-width="1.0" fill="none"/>
<path d="M281.30,1149.50H284.30M282.05,1148.19L283.55,1150.81M283.55,1148.19L282.05,1150.81" stroke="#555555" stroke-width="1.0" fill="none"/>
<path d="M301.50,1124.40H304.50M302.25,1123.10L303.75,1125.71M303.75,1123.10L302.25,1125.71" stroke="#555555" stroke-width="1.0" fill="none"/>
<path d="M301.50,1128.80H304.50M302.25,1127.49L303.75,1130.11M303.75,1127.49L302.25,1130.11" stroke="#555555" stroke-width="1.0" fill="none"/>
<path d="M301.50,1141.20H304.50M302.25,1139.89L303.75,1142.51M303.75,1139.89L302.25,1142.51" stroke="#555555" stroke-width="1.0" fill="none"/>
<path d="M301.50,1145.40H304.50M302.25,1144.10L303.75,1146.71M303.75,1144.10L302.25,1146.71" stroke="#555555" stroke-width="1.0" fill="none"/>
<path d="M301.50,1149.50H304.50M302.25,1148.19L303.75,1150.81M303.75,1148.19L302.25,1150.81" stroke="#555555" stroke-width="1.0" fill="none"/>
<text x="348.17" y="981.80" font-size="13" textLength="9.05" lengthAdjust="spacingAndGlyphs" fill="#231f20" stroke="#231f20" stroke-width="0.3">H</text>
<text x="394.76" y="1016.00" font-size="11.2" textLength="101.76" lengthAdjust="spacingAndGlyphs" fill="#231f20" stroke="#231f20" stroke-width="0.3">HSR-GBM1 (Day 4)</text>
<line x1="414.80" y1="1045.70" x2="414.80" y2="1050.10" stroke="#000" stroke-width="1.5" stroke-linecap="butt"/>
<line x1="406.80" y1="1045.70" x2="422.80" y2="1045.70" stroke="#000" stroke-width="1.5" stroke-linecap="butt"/>
<rect x="398.60" y="1049.10" width="32.40" height="150.20" fill="#000"/>
<line x1="460.25" y1="1044.80" x2="460.25" y2="1047.70" stroke="#000" stroke-width="1.5" stroke-linecap="butt"/>
<line x1="452.25" y1="1044.80" x2="468.25" y2="1044.80" stroke="#000" stroke-width="1.5" stroke-linecap="butt"/>
<rect x="444.50" y="1046.70" width="31.50" height="152.60" fill="#e02b2b"/>
<line x1="505.65" y1="1047.60" x2="505.65" y2="1050.00" stroke="#000" stroke-width="1.5" stroke-linecap="butt"/>
<line x1="497.65" y1="1047.60" x2="513.65" y2="1047.60" stroke="#000" stroke-width="1.5" stroke-linecap="butt"/>
<rect x="489.60" y="1049.00" width="32.10" height="150.30" fill="#4357a7"/>
<line x1="551.60" y1="1112.80" x2="551.60" y2="1117.30" stroke="#000" stroke-width="1.5" stroke-linecap="butt"/>
<line x1="543.60" y1="1112.80" x2="559.60" y2="1112.80" stroke="#000" stroke-width="1.5" stroke-linecap="butt"/>
<rect x="535.50" y="1116.30" width="32.20" height="83.00" fill="#000"/>
<line x1="597.25" y1="1145.80" x2="597.25" y2="1147.90" stroke="#000" stroke-width="1.5" stroke-linecap="butt"/>
<line x1="589.25" y1="1145.80" x2="605.25" y2="1145.80" stroke="#000" stroke-width="1.5" stroke-linecap="butt"/>
<rect x="581.50" y="1146.90" width="31.50" height="52.40" fill="#e02b2b"/>
<line x1="643.20" y1="1135.00" x2="643.20" y2="1137.10" stroke="#000" stroke-width="1.5" stroke-linecap="butt"/>
<line x1="635.20" y1="1135.00" x2="651.20" y2="1135.00" stroke="#000" stroke-width="1.5" stroke-linecap="butt"/>
<rect x="627.50" y="1136.10" width="31.40" height="63.20" fill="#4357a7"/>
<line x1="391.60" y1="1016.30" x2="391.60" y2="1199.90" stroke="#000" stroke-width="1.4" stroke-linecap="butt"/>
<line x1="391.00" y1="1199.30" x2="667.00" y2="1199.30" stroke="#000" stroke-width="1.4" stroke-linecap="butt"/>
<line x1="386.20" y1="1199.30" x2="391.60" y2="1199.30" stroke="#000" stroke-width="1.3" stroke-linecap="butt"/>
<text x="368.97" y="1203.20" font-size="11.2" textLength="15.57" lengthAdjust="spacingAndGlyphs" fill="#231f20" stroke="#231f20" stroke-width="0.3">0.0</text>
<line x1="386.20" y1="1162.80" x2="391.60" y2="1162.80" stroke="#000" stroke-width="1.3" stroke-linecap="butt"/>
<text x="372.11" y="1166.70" font-size="11.2" textLength="12.46" lengthAdjust="spacingAndGlyphs" fill="#231f20" stroke="#231f20" stroke-width="0.3">25</text>
<line x1="386.20" y1="1126.30" x2="391.60" y2="1126.30" stroke="#000" stroke-width="1.3" stroke-linecap="butt"/>
<text x="372.08" y="1130.20" font-size="11.2" textLength="12.46" lengthAdjust="spacingAndGlyphs" fill="#231f20" stroke="#231f20" stroke-width="0.3">50</text>
<line x1="386.20" y1="1089.80" x2="391.60" y2="1089.80" stroke="#000" stroke-width="1.3" stroke-linecap="butt"/>
<text x="372.11" y="1093.70" font-size="11.2" textLength="12.46" lengthAdjust="spacingAndGlyphs" fill="#231f20" stroke="#231f20" stroke-width="0.3">75</text>
<line x1="386.20" y1="1053.30" x2="391.60" y2="1053.30" stroke="#000" stroke-width="1.3" stroke-linecap="butt"/>
<text x="365.85" y="1057.20" font-size="11.2" textLength="18.69" lengthAdjust="spacingAndGlyphs" fill="#231f20" stroke="#231f20" stroke-width="0.3">100</text>
<line x1="386.20" y1="1016.80" x2="391.60" y2="1016.80" stroke="#000" stroke-width="1.3" stroke-linecap="butt"/>
<text x="365.88" y="1020.70" font-size="11.2" textLength="18.69" lengthAdjust="spacingAndGlyphs" fill="#231f20" stroke="#231f20" stroke-width="0.3">125</text>
<text transform="translate(362.60,1163.42) rotate(-90)" font-size="12" textLength="138.61" lengthAdjust="spacingAndGlyphs" fill="#231f20" stroke="#231f20" stroke-width="0.3">Alamar Blue % Reduction</text>
<path d="M414.20,1042.30V1038.50H550.90V1042.30" fill="none" stroke="#000" stroke-width="1.55"/>
<path d="M459.70,1029.60V1026.10H595.30V1029.60" fill="none" stroke="#000" stroke-width="1.55"/>
<path d="M506.00,1016.30V1012.90H641.80V1016.30" fill="none" stroke="#000" stroke-width="1.55"/>
<path d="M552.60,1086.70V1082.90H643.50V1086.70" fill="none" stroke="#000" stroke-width="1.55"/>
<path d="M551.10,1107.60V1104.00H595.40V1107.60" fill="none" stroke="#000" stroke-width="1.55"/>
<path d="M547.50,1034.40H550.10M548.15,1033.27L549.45,1035.53M549.45,1033.27L548.15,1035.53" stroke="#555555" stroke-width="1.0" fill="none"/>
<path d="M543.20,1034.40H545.80M543.85,1033.27L545.15,1035.53M545.15,1033.27L543.85,1035.53" stroke="#555555" stroke-width="1.0" fill="none"/>
<path d="M538.90,1034.40H541.50M539.55,1033.27L540.85,1035.53M540.85,1033.27L539.55,1035.53" stroke="#555555" stroke-width="1.0" fill="none"/>
<path d="M591.70,1022.20H594.30M592.35,1021.07L593.65,1023.33M593.65,1021.07L592.35,1023.33" stroke="#555555" stroke-width="1.0" fill="none"/>
<path d="M587.40,1022.20H590.00M588.05,1021.07L589.35,1023.33M589.35,1021.07L588.05,1023.33" stroke="#555555" stroke-width="1.0" fill="none"/>
<path d="M583.10,1022.20H585.70M583.75,1021.07L585.05,1023.33M585.05,1021.07L583.75,1023.33" stroke="#555555" stroke-width="1.0" fill="none"/>
<path d="M638.20,1008.00H640.80M638.85,1006.87L640.15,1009.13M640.15,1006.87L638.85,1009.13" stroke="#555555" stroke-width="1.0" fill="none"/>
<path d="M633.90,1008.00H636.50M634.55,1006.87L635.85,1009.13M635.85,1006.87L634.55,1009.13" stroke="#555555" stroke-width="1.0" fill="none"/>
<path d="M629.60,1008.00H632.20M630.25,1006.87L631.55,1009.13M631.55,1006.87L630.25,1009.13" stroke="#555555" stroke-width="1.0" fill="none"/>
<path d="M639.70,1079.50H642.30M640.35,1078.37L641.65,1080.63M641.65,1078.37L640.35,1080.63" stroke="#555555" stroke-width="1.0" fill="none"/>
<path d="M635.40,1079.50H638.00M636.05,1078.37L637.35,1080.63M637.35,1078.37L636.05,1080.63" stroke="#555555" stroke-width="1.0" fill="none"/>
<path d="M591.70,1100.20H594.30M592.35,1099.07L593.65,1101.33M593.65,1099.07L592.35,1101.33" stroke="#555555" stroke-width="1.0" fill="none"/>
<path d="M587.40,1100.20H590.00M588.05,1099.07L589.35,1101.33M589.35,1099.07L588.05,1101.33" stroke="#555555" stroke-width="1.0" fill="none"/>
<path d="M583.10,1100.20H585.70M583.75,1099.07L585.05,1101.33M585.05,1099.07L583.75,1101.33" stroke="#555555" stroke-width="1.0" fill="none"/>
<line x1="407.30" y1="1209.60" x2="511.40" y2="1209.60" stroke="#1a1a1a" stroke-width="1.3" stroke-linecap="butt"/>
<line x1="546.20" y1="1209.60" x2="648.90" y2="1209.60" stroke="#1a1a1a" stroke-width="1.3" stroke-linecap="butt"/>
<text x="444.80" y="1222.50" font-size="12" textLength="36.69" lengthAdjust="spacingAndGlyphs" fill="#231f20" stroke="#231f20" stroke-width="0.3">DMSO</text>
<text x="576.34" y="1223.60" font-size="12" textLength="49.03" lengthAdjust="spacingAndGlyphs" fill="#231f20" stroke="#231f20" stroke-width="0.3">5µM ACF</text>
<rect x="448.1" y="1234.4" width="6.3" height="6.8" fill="#000"/>
<text x="456.05" y="1240.00" font-size="7.2" textLength="14.21" lengthAdjust="spacingAndGlyphs" fill="#231f20" stroke="#231f20" stroke-width="0.45">GFP</text>
<rect x="499.2" y="1233.5" width="6.3" height="6.8" fill="#e02b2b"/>
<text x="506.77" y="1240.00" font-size="9.2" textLength="43.45" lengthAdjust="spacingAndGlyphs" fill="#231f20" stroke="#231f20" stroke-width="0.4">HIF-1α DM</text>
<rect x="565.5" y="1233.5" width="6.5" height="6.8" fill="#4357a7"/>
<text x="572.98" y="1240.00" font-size="9.2" textLength="43.24" lengthAdjust="spacingAndGlyphs" fill="#231f20" stroke="#231f20" stroke-width="0.4">HIF-2α DM</text>
</svg></body></html>
